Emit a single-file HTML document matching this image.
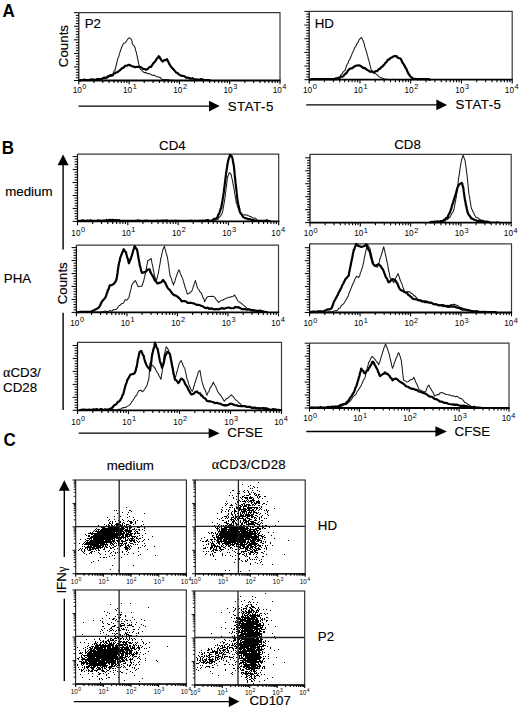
<!DOCTYPE html>
<html><head><meta charset="utf-8"><style>
html,body{margin:0;padding:0;background:#fff;}
svg{display:block;}
text{font-family:"Liberation Sans",sans-serif;fill:#000;}
.L{stroke:#000;stroke-width:0.15px;}
</style></head><body>
<svg width="520" height="708" viewBox="0 0 520 708">
<rect width="520" height="708" fill="#fff"/>
<text transform="translate(2.4,17.1) scale(1,1.1)" font-size="17" font-weight="bold">A</text>
<path d="M78.8,12.7H280V80.5" stroke="#3a3a3a" stroke-width="1.2" fill="none"/>
<path d="M95,80.3 96.67,80.2 98.33,79.57 100,79.21 101.67,79.65 103.33,78.55 105,78.72 106.56,78.19 108.12,77.63 109.69,76.45 111.25,76.41 112.19,74.69 113.12,73.55 114.06,71 115,70.55 115.42,67.94 115.83,67.04 116.25,65.01 116.67,63.74 117.08,61.29 117.5,59.79 118,58 118.5,57.33 119,55.54 119.5,53.65 120,52.13 120.5,50.5 121,49.14 121.5,48.07 122,46.43 122.5,45.25 123.75,43.24 125,42.91 126,41.83 127,40.29 127.88,39.04 128.75,37.92 130,38.01 131.25,39.45 131.88,41.12 132.5,44.09 133.33,45.05 134.17,45.78 135,47.43 135.42,49.5 135.83,50.9 136.25,52.05 136.67,54.69 137.08,55.3 137.5,57.91 137.83,59.74 138.17,61.13 138.5,63.04 138.83,64.2 139.17,65.5 139.5,67.47 140.5,69.04 141.5,70.32 142.5,71.11 144.17,72.62 145.83,72.36 147.5,73.74 149.17,73.61 150.83,74.41 152.5,75.59 154.17,74.96 155.83,76.42 157.5,76.74 158.75,77.31 160,77.38 161.25,78.72 163.12,79.61 165,79.51 166.67,79.82 168.33,79.64 170,80.2 171.67,80.2 173.33,80.2 175,80.4" fill="none" stroke="#1a1a1a" stroke-width="1.05" stroke-linejoin="round" stroke-linecap="round" />
<path d="M80,80.3 81.5,80 83,80 84.5,79.68 86,80 87.5,80 89,80 90.5,79.52 92,79.47 93.5,79.54 95,80 96.67,79.2 98.33,79.2 100,78.97 101.67,79.13 103.33,77.9 105,77.71 106.5,77.73 108,76.3 109.5,75.8 111,75.03 112.5,75.55 113.75,73.85 115,73.34 116.25,72.35 117.5,72.24 118.75,71.09 120,70.12 121.25,69.05 122.5,67.85 123.75,67.59 125,65.77 126.88,65.77 128.75,64.75 130.42,65.4 132.08,66.28 133.75,66.63 135.31,67.24 136.88,66.73 138.44,66.8 140,67.07 141.56,67.51 143.12,68.95 144.69,69.01 146.25,69.71 147.92,68.75 149.58,66.93 151.25,66.79 152.19,64.86 153.12,63.7 154.06,62.49 155,61.48 155.94,60.32 156.88,58.38 157.81,57.89 158.75,56.16 159.69,57.2 160.62,59.19 161.56,60.45 162.5,61.68 164,60.2 165.5,60.08 167,59.08 167.75,60.88 168.5,62.18 169.25,64.04 170,64.97 171,66.55 172,67.84 173,68.78 174,70.01 175,71.13 176.25,72.63 177.5,72.98 178.75,74.36 180,75.07 181.5,75.85 183,75.97 184.5,76.29 186,77.61 187.5,77.57 189.17,78.08 190.83,78.84 192.5,78.21 194.17,79.49 195.83,79.36 197.5,79.57 199.06,79.81 200.62,79.17 202.19,79.23 203.75,80 205.31,80 206.88,80 208.44,80 210,80.3" fill="none" stroke="#000" stroke-width="2.2" stroke-linejoin="round" stroke-linecap="round" />
<path d="M78.8,12.7V80.5" stroke="#111" stroke-width="1.2" fill="none"/>
<path d="M78.8,80.5h-4.8M78.8,77.79h-2.9M78.8,75.08h-2.9M78.8,72.36h-2.9M78.8,69.65h-2.9M78.8,66.94h-4.8M78.8,64.23h-2.9M78.8,61.52h-2.9M78.8,58.8h-2.9M78.8,56.09h-2.9M78.8,53.38h-4.8M78.8,50.67h-2.9M78.8,47.96h-2.9M78.8,45.24h-2.9M78.8,42.53h-2.9M78.8,39.82h-4.8M78.8,37.11h-2.9M78.8,34.4h-2.9M78.8,31.68h-2.9M78.8,28.97h-2.9M78.8,26.26h-4.8M78.8,23.55h-2.9M78.8,20.84h-2.9M78.8,18.12h-2.9M78.8,15.41h-2.9M78.8,12.7h-4.8" stroke="#000" stroke-width="1" fill="none"/>
<path d="M78.2,80.5H280.6" stroke="#000" stroke-width="1.8" fill="none"/>
<path d="M78.8,80.5v3.8M93.94,80.5v2.6M102.8,80.5v2.6M109.08,80.5v2.6M113.96,80.5v2.6M117.94,80.5v2.6M121.31,80.5v2.6M124.23,80.5v2.6M126.8,80.5v2.6M129.1,80.5v3.8M144.24,80.5v2.6M153.1,80.5v2.6M159.38,80.5v2.6M164.26,80.5v2.6M168.24,80.5v2.6M171.61,80.5v2.6M174.53,80.5v2.6M177.1,80.5v2.6M179.4,80.5v3.8M194.54,80.5v2.6M203.4,80.5v2.6M209.68,80.5v2.6M214.56,80.5v2.6M218.54,80.5v2.6M221.91,80.5v2.6M224.83,80.5v2.6M227.4,80.5v2.6M229.7,80.5v3.8M244.84,80.5v2.6M253.7,80.5v2.6M259.98,80.5v2.6M264.86,80.5v2.6M268.84,80.5v2.6M272.21,80.5v2.6M275.13,80.5v2.6M277.7,80.5v2.6M280,80.5v3.8" stroke="#000" stroke-width="1.1" fill="none"/>
<text x="72.64" y="92.6" font-size="8.2" fill="#111">10</text>
<text x="82.36" y="89.3" font-size="7.4" fill="#111">0</text>
<text x="122.94" y="92.6" font-size="8.2" fill="#111">10</text>
<text x="132.66" y="89.3" font-size="7.4" fill="#111">1</text>
<text x="173.24" y="92.6" font-size="8.2" fill="#111">10</text>
<text x="182.96" y="89.3" font-size="7.4" fill="#111">2</text>
<text x="223.54" y="92.6" font-size="8.2" fill="#111">10</text>
<text x="233.26" y="89.3" font-size="7.4" fill="#111">3</text>
<text x="272.64" y="92.6" font-size="8.2" fill="#111">10</text>
<text x="282.36" y="89.3" font-size="7.4" fill="#111">4</text>
<text x="84.7" y="28.4" font-size="13.3" text-anchor="start"  class="L">P2</text>
<text transform="translate(67.6,46.1) rotate(-90)" font-size="13.3" class="L" text-anchor="middle">Counts</text>
<path d="M78.5,106.1H210" stroke="#000" stroke-width="1.3"/>
<path d="M219.7,106.1L209,100.7V111.5Z" fill="#000"/>
<text x="227.7" y="110.5" font-size="13.3" text-anchor="start" letter-spacing="0.5" class="L">STAT-5</text>
<path d="M309.2,11.4H512.2V79.7" stroke="#3a3a3a" stroke-width="1.2" fill="none"/>
<path d="M320,79.6 321.56,79.31 323.12,79.17 324.69,79.4 326.25,79.02 327.81,79.4 329.38,79.4 330.94,79.4 332.5,79 334,79.09 335.5,77.69 337,77.49 338.5,77.04 340,76.67 341,74.46 342,74.05 343,72.08 344,71.14 345,70.58 345.62,68.96 346.25,66.58 346.88,65.03 347.5,63.6 348.12,63.05 348.75,60.7 349.38,60.13 350,58.7 350.62,57.26 351.25,55.94 351.88,54.12 352.5,52.89 353.25,51.05 354,49.7 354.75,47.48 355.5,46.56 356.25,45.59 357.19,43.3 358.12,42.13 359.06,39.93 360,38.73 361.75,37.55 362.42,39.49 363.08,40.62 363.75,42.46 364.17,43.59 364.58,45.51 365,47.4 365.42,48.2 365.83,49.98 366.25,51.32 366.67,52.34 367.08,54.4 367.5,55.28 367.92,57.22 368.33,59.13 368.75,59.77 369.17,61.87 369.58,63.14 370,65.17 370.42,66.3 370.83,68.33 371.25,70.34 372.5,70.91 373.75,72.33 375,73.42 376.67,74.42 378.33,76.12 380,77.4 381.67,77.87 383.33,78.6 385,79.26 386.67,79.2 388.33,79.4 390,79.4 391.67,79.4 393.33,79.32 395,79.6" fill="none" stroke="#1a1a1a" stroke-width="1.05" stroke-linejoin="round" stroke-linecap="round" />
<path d="M310,79.6 311.56,79.2 313.12,79 314.69,79.2 316.25,79.2 317.81,79.2 319.38,79.2 320.94,79.2 322.5,79.2 324.06,79.2 325.62,79.2 327.19,79.2 328.75,79.2 330.31,79.2 331.88,79.2 333.44,79.2 335,79.2 336.5,79.2 338,78.22 339.5,78 341,76.53 342.5,76.61 343.62,75.91 344.75,74.18 345.88,73.57 347,72.22 348.27,70.26 349.53,69.16 350.8,68.3 352.4,68.07 354,66.69 355.55,65.92 357.1,65.53 358.55,65.37 360,65.58 361.75,66.73 363.5,68.09 365,68.15 366.5,69.49 368.15,70.4 369.8,71.63 371.9,71.51 374,72.69 375.5,71.21 377,71.15 378.7,69.26 380.4,68.41 381.45,66.85 382.5,66.46 383.55,65.29 384.6,64.12 385.65,62.57 386.7,61.82 387.75,59.82 388.8,59.62 390.23,58.25 391.67,57.57 393.1,56.51 394.75,56.03 396.4,56.04 397.83,57.7 399.27,58.25 400.7,58.83 401.54,60.59 402.38,62.43 403.22,63.43 404.06,64.88 404.9,66.4 405.6,68.16 406.3,68.57 407,70.75 407.7,72.06 408.4,73.64 409.1,74.4 410.18,76.29 411.25,77.35 412.32,77.83 413.4,79.2 414.93,78.8 416.47,79.2 418,79.1 419.5,79.2 421,79.2 422.5,79.2 424,79.2 425.5,79.2 427,79.2 428.5,79.2 430,79.6" fill="none" stroke="#000" stroke-width="2.2" stroke-linejoin="round" stroke-linecap="round" />
<path d="M309.2,11.4V79.7" stroke="#111" stroke-width="1.2" fill="none"/>
<path d="M309.2,79.7h-4.8M309.2,76.97h-2.9M309.2,74.24h-2.9M309.2,71.5h-2.9M309.2,68.77h-2.9M309.2,66.04h-4.8M309.2,63.31h-2.9M309.2,60.58h-2.9M309.2,57.84h-2.9M309.2,55.11h-2.9M309.2,52.38h-4.8M309.2,49.65h-2.9M309.2,46.92h-2.9M309.2,44.18h-2.9M309.2,41.45h-2.9M309.2,38.72h-4.8M309.2,35.99h-2.9M309.2,33.26h-2.9M309.2,30.52h-2.9M309.2,27.79h-2.9M309.2,25.06h-4.8M309.2,22.33h-2.9M309.2,19.6h-2.9M309.2,16.86h-2.9M309.2,14.13h-2.9M309.2,11.4h-4.8" stroke="#000" stroke-width="1" fill="none"/>
<path d="M308.6,79.7H512.8" stroke="#000" stroke-width="1.8" fill="none"/>
<path d="M309.2,79.7v3.8M324.48,79.7v2.6M333.41,79.7v2.6M339.75,79.7v2.6M344.67,79.7v2.6M348.69,79.7v2.6M352.09,79.7v2.6M355.03,79.7v2.6M357.63,79.7v2.6M359.95,79.7v3.8M375.23,79.7v2.6M384.16,79.7v2.6M390.5,79.7v2.6M395.42,79.7v2.6M399.44,79.7v2.6M402.84,79.7v2.6M405.78,79.7v2.6M408.38,79.7v2.6M410.7,79.7v3.8M425.98,79.7v2.6M434.91,79.7v2.6M441.25,79.7v2.6M446.17,79.7v2.6M450.19,79.7v2.6M453.59,79.7v2.6M456.53,79.7v2.6M459.13,79.7v2.6M461.45,79.7v3.8M476.73,79.7v2.6M485.66,79.7v2.6M492,79.7v2.6M496.92,79.7v2.6M500.94,79.7v2.6M504.34,79.7v2.6M507.28,79.7v2.6M509.88,79.7v2.6M512.2,79.7v3.8" stroke="#000" stroke-width="1.1" fill="none"/>
<text x="303.04" y="92.6" font-size="8.2" fill="#111">10</text>
<text x="312.76" y="89.3" font-size="7.4" fill="#111">0</text>
<text x="353.79" y="92.6" font-size="8.2" fill="#111">10</text>
<text x="363.51" y="89.3" font-size="7.4" fill="#111">1</text>
<text x="404.54" y="92.6" font-size="8.2" fill="#111">10</text>
<text x="414.26" y="89.3" font-size="7.4" fill="#111">2</text>
<text x="455.29" y="92.6" font-size="8.2" fill="#111">10</text>
<text x="465.01" y="89.3" font-size="7.4" fill="#111">3</text>
<text x="504.84" y="92.6" font-size="8.2" fill="#111">10</text>
<text x="514.56" y="89.3" font-size="7.4" fill="#111">4</text>
<text x="314.7" y="27.8" font-size="13.3" text-anchor="start"  class="L">HD</text>
<path d="M306.2,104.9H437.4" stroke="#000" stroke-width="1.3"/>
<path d="M447.1,104.9L436.4,99.5V110.3Z" fill="#000"/>
<text x="455.4" y="109.2" font-size="13.3" text-anchor="start" letter-spacing="0.5" class="L">STAT-5</text>
<text transform="translate(1.8,153.9) scale(1,1.1)" font-size="17" font-weight="bold">B</text>
<text x="172.4" y="150" font-size="13.3" text-anchor="middle"  class="L">CD4</text>
<text x="407.5" y="148.6" font-size="13.3" text-anchor="middle"  class="L">CD8</text>
<text x="5.2" y="196" font-size="13.3" text-anchor="start"  class="L">medium</text>
<text x="3.8" y="283.3" font-size="13.3" text-anchor="start"  class="L">PHA</text>
<text x="3.1" y="376.7" font-size="13.3" class="L"><tspan font-family="Liberation Serif" font-size="14">&#945;</tspan>CD3/</text>
<text x="3.1" y="392.3" font-size="13.3" text-anchor="start"  class="L">CD28</text>
<path d="M63.1,164.2V249.5M63.1,312.7V410" stroke="#000" stroke-width="1.4"/>
<path d="M63.1,154.6L57.6,165.2H68.6Z" fill="#000"/>
<text transform="translate(67.3,283.3) rotate(-90)" font-size="13.3" class="L" text-anchor="middle">Counts</text>
<path d="M77.5,154.1H278.7V221.4" stroke="#3a3a3a" stroke-width="1.2" fill="none"/>
<path d="M210,221 211.5,220.66 213,220.49 214.5,220.35 216,220.04 217.5,219.55 218.33,218.75 219.17,217.24 220,216.6 220.83,215.55 221.67,214.04 222.5,212.3 222.75,210.97 223,209.79 223.25,207.67 223.5,206.86 223.75,204.45 224,204.06 224.25,202.07 224.5,200.83 224.75,199.12 225,197.92 225.19,195.87 225.38,193.93 225.58,192.53 225.77,191.64 225.96,190.39 226.15,187.94 226.35,186.71 226.54,185.53 226.73,183.42 226.92,181.8 227.12,180.89 227.31,178.58 227.5,177.3 228.17,175.78 228.83,173.83 229.5,172.54 230.38,173.48 231.25,174.89 231.56,176.19 231.88,178.5 232.19,179.15 232.5,180.67 232.81,182.65 233.12,184.74 233.44,185.64 233.75,187.46 234,188.51 234.25,190.24 234.5,192.53 234.75,193.93 235,194.52 235.25,197.05 235.5,197.96 235.75,199.06 236,200.84 236.25,203.05 236.79,203.55 237.32,205.67 237.86,207.31 238.39,208.71 238.93,209.95 239.46,211.58 240,212.04 241.25,213.57 242.5,214.72 243.75,215.03 245.62,214.67 247.5,215.25 249.17,216.1 250.83,216.73 252.5,217.77 254.17,217.94 255.83,218.57 257.5,220.19 259,220.79 260.5,220.38 262,220.82 263.5,221.05 265,221" fill="none" stroke="#1a1a1a" stroke-width="1.05" stroke-linejoin="round" stroke-linecap="round" />
<path d="M78,221 79.57,220.9 81.14,220.9 82.71,220.35 84.29,220.9 85.86,220.78 87.43,220.69 89,220.9 90.57,220.33 92.14,220.9 93.71,220.9 95.29,220.9 96.86,220.9 98.43,220.29 100,220.71 101.67,220.9 103.33,220.55 105,220.67 106.67,219.93 108.33,220.55 110,219.73 111.54,220.37 113.08,219.84 114.62,220.23 116.15,220.05 117.69,220.3 119.23,220.18 120.77,220.9 122.31,220.76 123.85,220.9 125.38,220.9 126.92,220.9 128.46,220.9 130,220.9 131.52,220.9 133.04,220.9 134.57,220.86 136.09,220.88 137.61,220.43 139.13,220.65 140.65,220.9 142.17,220.87 143.7,220.9 145.22,220.51 146.74,220.58 148.26,220.9 149.78,220.9 151.3,220.83 152.83,220.9 154.35,220.9 155.87,220.9 157.39,220.58 158.91,220.9 160.43,220.9 161.96,220.57 163.48,220.48 165,220.48 166.52,220.4 168.04,220.9 169.57,220.9 171.09,220.72 172.61,220.75 174.13,220.9 175.65,220.68 177.17,220.9 178.7,220.9 180.22,220.89 181.74,220.9 183.26,220.88 184.78,220.83 186.3,220.9 187.83,220.9 189.35,220.9 190.87,220.54 192.39,220.77 193.91,220.9 195.43,220.9 196.96,220.9 198.48,220.9 200,220.51 201.56,220.9 203.12,220.54 204.69,220.73 206.25,220.24 207.81,220.12 209.38,220.54 210.94,220.9 212.5,220.25 214.17,218.93 215.83,218.73 217.5,217.24 218.04,215.57 218.57,214.29 219.11,213.67 219.64,212.27 220.18,210.35 220.71,208.9 221.25,207.73 221.5,205.81 221.75,204.36 222,203.34 222.25,201.7 222.5,200.47 222.75,198.58 223,197.39 223.25,195.9 223.5,193.68 223.75,192.67 223.94,191.03 224.13,189.02 224.33,187.55 224.52,186.22 224.71,185.34 224.9,182.71 225.1,182.29 225.29,180.73 225.48,178.54 225.67,177.27 225.87,175.34 226.06,173.49 226.25,171.92 226.5,171.21 226.75,169.05 227,167.82 227.25,165.99 227.5,164.1 227.75,163 228,161.51 228.25,160.55 228.83,158.35 229.42,157.23 230,154.88 232,156.66 232.35,158.02 232.7,159.18 233.05,162 233.4,163.47 233.75,165.09 233.91,166.51 234.07,167.59 234.23,170.22 234.39,170.83 234.55,172.48 234.7,174.88 234.86,175.89 235.02,177.53 235.18,179.05 235.34,180.87 235.5,182.85 235.68,183.89 235.86,185.24 236.05,187.33 236.23,188.69 236.41,190.93 236.59,191.52 236.77,193.54 236.95,195.13 237.14,197.19 237.32,198.03 237.5,200.35 237.81,201.62 238.12,203.52 238.44,205.06 238.75,206.25 239.06,208.08 239.38,208.94 239.69,211.24 240,212.15 240.94,213.82 241.88,214.6 242.81,216.79 243.75,217.38 245.31,218.19 246.88,218.51 248.44,219.23 250,219.13 251.5,220.08 253,219.87 254.5,220.42 256,220.9 257.5,220.9 259.06,220.9 260.62,220.8 262.19,220.81 263.75,220.9 265.31,220.87 266.88,220.38 268.44,220.74 270,221" fill="none" stroke="#000" stroke-width="2.2" stroke-linejoin="round" stroke-linecap="round" />
<path d="M77.5,154.1V221.4" stroke="#111" stroke-width="1.2" fill="none"/>
<path d="M77.5,221.4h-4.8M77.5,218.81h-2.9M77.5,216.22h-2.9M77.5,213.62h-2.9M77.5,211.03h-2.9M77.5,208.44h-4.8M77.5,205.85h-2.9M77.5,203.26h-2.9M77.5,200.66h-2.9M77.5,198.07h-2.9M77.5,195.48h-4.8M77.5,192.89h-2.9M77.5,190.3h-2.9M77.5,187.7h-2.9M77.5,185.11h-2.9M77.5,182.52h-4.8M77.5,179.93h-2.9M77.5,177.34h-2.9M77.5,174.74h-2.9M77.5,172.15h-2.9M77.5,169.56h-4.8M77.5,166.97h-2.9M77.5,164.38h-2.9M77.5,161.78h-2.9M77.5,159.19h-2.9M77.5,156.6h-4.8" stroke="#000" stroke-width="1" fill="none"/>
<path d="M76.9,221.4H279.3" stroke="#000" stroke-width="1.8" fill="none"/>
<path d="M77.5,221.4v3.8M92.64,221.4v2.6M101.5,221.4v2.6M107.78,221.4v2.6M112.66,221.4v2.6M116.64,221.4v2.6M120.01,221.4v2.6M122.93,221.4v2.6M125.5,221.4v2.6M127.8,221.4v3.8M142.94,221.4v2.6M151.8,221.4v2.6M158.08,221.4v2.6M162.96,221.4v2.6M166.94,221.4v2.6M170.31,221.4v2.6M173.23,221.4v2.6M175.8,221.4v2.6M178.1,221.4v3.8M193.24,221.4v2.6M202.1,221.4v2.6M208.38,221.4v2.6M213.26,221.4v2.6M217.24,221.4v2.6M220.61,221.4v2.6M223.53,221.4v2.6M226.1,221.4v2.6M228.4,221.4v3.8M243.54,221.4v2.6M252.4,221.4v2.6M258.68,221.4v2.6M263.56,221.4v2.6M267.54,221.4v2.6M270.91,221.4v2.6M273.83,221.4v2.6M276.4,221.4v2.6M278.7,221.4v3.8" stroke="#000" stroke-width="1.1" fill="none"/>
<text x="71.34" y="235.5" font-size="8.2" fill="#111">10</text>
<text x="81.06" y="232.2" font-size="7.4" fill="#111">0</text>
<text x="121.64" y="235.5" font-size="8.2" fill="#111">10</text>
<text x="131.36" y="232.2" font-size="7.4" fill="#111">1</text>
<text x="171.94" y="235.5" font-size="8.2" fill="#111">10</text>
<text x="181.66" y="232.2" font-size="7.4" fill="#111">2</text>
<text x="222.24" y="235.5" font-size="8.2" fill="#111">10</text>
<text x="231.96" y="232.2" font-size="7.4" fill="#111">3</text>
<text x="271.34" y="235.5" font-size="8.2" fill="#111">10</text>
<text x="281.06" y="232.2" font-size="7.4" fill="#111">4</text>
<path d="M310,154.3H511.2V222.6" stroke="#3a3a3a" stroke-width="1.2" fill="none"/>
<path d="M430,222.3 431.5,222.17 433,221.51 434.5,221.5 436,221.96 437.5,221.38 439,222.2 440.5,221.11 442,221.23 443.5,220.87 445,221.11 446.25,219.72 447.5,219.51 448.75,218 450,217.03 450.75,215.82 451.5,214.04 452.25,212.7 453,212.03 453.75,209.78 454.06,208.68 454.38,207.06 454.69,205.52 455,203.7 455.31,202.12 455.62,200.8 455.94,198.64 456.25,196.95 456.44,195.49 456.63,193.85 456.83,192.84 457.02,190.86 457.21,189.75 457.4,188.36 457.6,186.42 457.79,185.4 457.98,183.67 458.17,181.9 458.37,180.61 458.56,178.48 458.75,177.56 459,175.48 459.25,174.79 459.5,172.69 459.75,171.03 460,169.03 460.25,167.25 460.5,165.71 460.75,164.32 461,162.48 461.25,161.71 461.69,159.57 462.12,158.28 462.56,156.8 463,155.34 463.67,156.61 464.33,158.72 465,160.4 465.2,161.58 465.4,162.68 465.6,164.82 465.8,165.44 466,167.73 466.2,168.92 466.4,170.13 466.6,172.57 466.8,172.99 467,174.78 467.16,176.78 467.32,177.64 467.48,180.09 467.64,180.77 467.8,182.57 467.95,185 468.11,185.59 468.27,188.17 468.43,188.91 468.59,190.77 468.75,192.26 469,194.18 469.25,195.66 469.5,196.6 469.75,198.21 470,199.99 470.25,201.99 470.5,202.97 470.75,204.68 471,206.37 471.25,207.71 471.88,209.38 472.5,210.27 473.12,212.15 473.75,212.85 474.38,214.44 475,215.73 476.25,217.53 477.5,217.56 478.75,218.77 480,219.45 481.25,220.24 483,220.36 484.75,221.03 486.5,221.39 488.25,221.73 490,222.21 491.67,222.3 493.33,222.14 495,222.21 496.67,221.81 498.33,222.1 500,222.3" fill="none" stroke="#1a1a1a" stroke-width="1.05" stroke-linejoin="round" stroke-linecap="round" />
<path d="M430,222.3 431.56,221.94 433.12,222.1 434.69,221.46 436.25,221.74 437.81,221.32 439.38,221.98 440.94,220.99 442.5,221.34 443.75,220.09 445,219.49 446.25,217.87 447.5,217.83 448.12,215.79 448.75,214.46 449.38,213.24 450,212.18 450.62,210.28 451.25,208.78 451.72,206.69 452.19,205.22 452.66,203.68 453.12,202.93 453.59,200.36 454.06,199.75 454.53,197.61 455,196.57 455.5,194.54 456,193.41 456.5,191.12 457,189.18 457.5,187.75 458,186.36 459,184.58 460,183.92 461.75,182.91 462.25,183.57 462.75,186.41 463.25,187.3 463.47,189.16 463.69,191.14 463.91,192.34 464.12,194.28 464.34,195.6 464.56,197.34 464.78,198.76 465,200.01 465.31,201.24 465.62,203.29 465.94,205.09 466.25,205.72 466.56,208.18 466.88,209.27 467.19,210.59 467.5,212.02 468.44,214.36 469.38,215.54 470.31,216.63 471.25,218.43 472.81,218.83 474.38,219.74 475.94,220.22 477.5,221.15 479.06,220.88 480.62,220.92 482.19,221.85 483.75,222.1 485.31,222.1 486.88,221.58 488.44,222.1 490,222.3" fill="none" stroke="#000" stroke-width="2.2" stroke-linejoin="round" stroke-linecap="round" />
<path d="M310,154.3V222.6" stroke="#111" stroke-width="1.2" fill="none"/>
<path d="M310,222.6h-4.8M310,220.01h-2.9M310,217.42h-2.9M310,214.82h-2.9M310,212.23h-2.9M310,209.64h-4.8M310,207.05h-2.9M310,204.46h-2.9M310,201.86h-2.9M310,199.27h-2.9M310,196.68h-4.8M310,194.09h-2.9M310,191.5h-2.9M310,188.9h-2.9M310,186.31h-2.9M310,183.72h-4.8M310,181.13h-2.9M310,178.54h-2.9M310,175.94h-2.9M310,173.35h-2.9M310,170.76h-4.8M310,168.17h-2.9M310,165.58h-2.9M310,162.98h-2.9M310,160.39h-2.9M310,157.8h-4.8" stroke="#000" stroke-width="1" fill="none"/>
<path d="M309.4,222.6H511.8" stroke="#000" stroke-width="1.8" fill="none"/>
<path d="M310,222.6v3.8M325.14,222.6v2.6M334,222.6v2.6M340.28,222.6v2.6M345.16,222.6v2.6M349.14,222.6v2.6M352.51,222.6v2.6M355.43,222.6v2.6M358,222.6v2.6M360.3,222.6v3.8M375.44,222.6v2.6M384.3,222.6v2.6M390.58,222.6v2.6M395.46,222.6v2.6M399.44,222.6v2.6M402.81,222.6v2.6M405.73,222.6v2.6M408.3,222.6v2.6M410.6,222.6v3.8M425.74,222.6v2.6M434.6,222.6v2.6M440.88,222.6v2.6M445.76,222.6v2.6M449.74,222.6v2.6M453.11,222.6v2.6M456.03,222.6v2.6M458.6,222.6v2.6M460.9,222.6v3.8M476.04,222.6v2.6M484.9,222.6v2.6M491.18,222.6v2.6M496.06,222.6v2.6M500.04,222.6v2.6M503.41,222.6v2.6M506.33,222.6v2.6M508.9,222.6v2.6M511.2,222.6v3.8" stroke="#000" stroke-width="1.1" fill="none"/>
<text x="303.84" y="236.4" font-size="8.2" fill="#111">10</text>
<text x="313.56" y="233.1" font-size="7.4" fill="#111">0</text>
<text x="354.14" y="236.4" font-size="8.2" fill="#111">10</text>
<text x="363.86" y="233.1" font-size="7.4" fill="#111">1</text>
<text x="404.44" y="236.4" font-size="8.2" fill="#111">10</text>
<text x="414.16" y="233.1" font-size="7.4" fill="#111">2</text>
<text x="454.74" y="236.4" font-size="8.2" fill="#111">10</text>
<text x="464.46" y="233.1" font-size="7.4" fill="#111">3</text>
<text x="503.84" y="236.4" font-size="8.2" fill="#111">10</text>
<text x="513.56" y="233.1" font-size="7.4" fill="#111">4</text>
<path d="M76.4,245.2H278.5V312.4" stroke="#3a3a3a" stroke-width="1.2" fill="none"/>
<path d="M90,312.3 91.67,312.1 93.33,312.1 95,312.01 96.67,312.1 98.33,312.1 100,312.1 101.67,312.1 103.34,311.45 105.01,310.91 106.69,311.42 108.36,311.45 110.03,310.46 111.7,311.27 113.3,309.63 114.9,309.69 116.5,309.14 117.45,308.17 118.4,306.14 120,305.3 121.6,303.73 123.2,303.34 124.15,301.71 125.1,299.72 127,299.92 128.5,298.25 128.87,297.79 129.23,296.22 129.6,294.49 129.97,293.02 130.33,291.11 130.7,289.85 131.07,288.69 131.43,286.64 131.8,285.07 132.93,283.34 134.07,281.94 135.2,280.5 135.92,281.75 136.65,283.32 137.38,285.09 138.1,286.65 140,286.23 141.9,286.11 142.38,285.07 142.85,283.17 143.33,282.06 143.8,280.4 144.2,278.7 144.6,277.43 145,274.76 145.4,273.62 145.8,271.46 146.07,269.98 146.34,268.85 146.61,267.79 146.89,265.13 147.16,263.96 147.43,263.19 147.7,260.82 149.4,259.95 151.1,258.48 151.45,259.91 151.8,262.14 152.15,263.9 152.5,265.17 152.77,266.77 153.04,267.78 153.31,269.97 153.59,270.86 153.86,272.24 154.13,274.21 154.4,275.22 155.03,277.6 155.67,278.68 156.3,280.85 156.8,278.89 157.3,277.61 157.8,274.98 158.3,273.4 158.57,272.22 158.83,270.17 159.1,268.94 159.37,266.96 159.63,265.85 159.9,264.39 160.17,262.92 160.43,261.07 160.7,258.83 161.04,257.4 161.39,256.7 161.73,254.88 162.07,252.74 162.41,251.9 162.76,249.95 163.1,249.01 164.5,246.19 164.93,248.65 165.36,249.54 165.79,251.91 166.21,253.41 166.64,254.13 167.07,256.34 167.5,257.38 167.73,259.64 167.95,260.59 168.18,262.47 168.41,264.38 168.64,264.91 168.86,267.06 169.09,269.17 169.32,270.78 169.55,272.32 169.77,273.54 170,275.29 170.5,276.86 171,277.82 171.5,278.72 172,281.05 172.5,282.56 173,283.54 173.5,285.16 174.03,282.9 174.56,282.42 175.09,280.32 175.62,278.4 176.15,277.01 176.68,275.41 177.21,274 177.74,272.53 178.27,271.29 178.8,269.89 179.45,270.63 180.1,272.82 180.75,274.66 181.4,275.77 182.05,277.39 182.7,278.7 183.16,280.71 183.62,281.76 184.08,283.88 184.54,284.63 185,287.23 185.46,288.38 185.92,289.32 186.38,291.23 186.84,292.42 187.3,294.13 188.83,293.46 190.37,292.33 191.9,290.92 192.4,289.57 192.9,287.93 193.4,285.79 193.9,285.41 194.4,282.92 194.9,282.2 195.4,280.4 195.86,282.45 196.32,283.32 196.78,285.56 197.24,287.35 197.7,288.22 198.87,289.74 200.03,291.91 201.2,292.95 201.88,294.52 202.56,296.37 203.24,298.21 203.92,298.97 204.6,301.78 205.73,299.58 206.87,297.47 208,296.6 209.93,296.42 211.87,296.34 213.8,296.58 214.98,297.45 216.15,299.58 217.32,300.63 218.5,302.55 219.93,301.16 221.35,300.33 222.77,300.27 224.2,299.19 225.73,298.58 227.27,297.89 228.8,297.27 230.25,297.24 231.7,296.47 233.15,296.35 234.6,294.8 235.47,296.95 236.35,297.74 237.22,299.76 238.1,301.08 239.53,302.21 240.95,302.97 242.38,304.4 243.8,305.34 245.37,306.64 246.93,308.38 248.5,308.92 250.03,310 251.57,309.82 253.1,310.94 254.63,310.28 256.17,311.18 257.7,311.05 259.52,311.94 261.35,311.5 263.18,311.94 265,312.3" fill="none" stroke="#1a1a1a" stroke-width="1.05" stroke-linejoin="round" stroke-linecap="round" />
<path d="M78,312.3 79.67,311.9 81.33,311.9 83,311.9 84.67,311.84 86.33,311.9 88,311.9 90.5,311.83 92.4,311.09 94.3,309.95 95.93,309.28 97.57,308.38 99.2,307.05 100.13,305.46 101.07,303.25 102,301.5 102.97,300.23 103.95,299.27 104.93,298.14 105.9,296.52 106.38,294.71 106.85,293.18 107.33,292.52 107.8,290.04 108.43,289.55 109.07,287.74 109.7,285.4 111.65,285.19 113.6,283.95 115.5,281.84 116,280 116.5,279.57 116.8,277.35 117.1,276.13 117.4,273.71 117.6,272.72 117.8,270.65 118,269.15 118.2,268.31 118.4,266.6 118.75,264.82 119.1,262.58 119.45,261.87 119.8,260.05 120.3,257.61 120.8,256.44 121.3,255.12 122.1,252.97 122.9,251.3 123.7,249.19 124.85,251.37 126,252.23 126.43,254.56 126.86,255.57 127.29,257.79 127.71,258.33 128.14,260.1 128.57,262.33 129,263.25 129.56,261.49 130.12,260.18 130.68,259.02 131.24,257.28 131.8,255.65 132.28,253.84 132.77,252.27 133.25,250.46 133.73,249.04 134.22,247.3 134.7,246.11 135.9,248.31 137.1,249.81 137.37,251.69 137.63,252.49 137.9,254.43 138.17,255.83 138.43,258.05 138.7,258.91 138.97,260.82 139.23,261.99 139.5,263.41 139.9,266.02 140.3,266.85 140.7,268.33 141.1,270.6 141.5,271.19 141.9,272.82 144.8,272.17 146.25,271.39 147.7,269.51 149.6,269.43 150.55,272.35 151.5,274.08 152.22,275.05 152.95,276.72 153.68,277.56 154.4,279.64 155.37,281 156.33,281.91 157.3,283.51 159.25,282.84 161.2,282.3 162.15,281.3 163.1,280.01 165,282.45 165.83,283.85 166.67,286.08 167.5,287.58 168.5,288.86 169.5,289.57 170.5,291.32 171.5,292.36 172.5,293.88 174.17,295.15 175.83,295.67 177.5,296.64 178.5,297.67 179.5,298.46 180.5,299.45 181.5,301.3 183.05,301 184.6,301.15 186.15,301.51 187.7,302.86 189.25,302.8 190.8,302.74 192.33,303.18 193.87,303.41 195.4,304.33 196.93,304.87 198.47,304.76 200,305.3 201.53,305.96 203.07,306.61 204.6,307.6 206.13,308.17 207.67,307.51 209.2,308.9 210.95,308.35 212.7,308.89 214.45,309.38 216.2,309.11 217.73,309.28 219.27,309.14 220.8,308.41 222.33,308.16 223.87,308.86 225.4,308.31 227.12,307.77 228.85,307.59 230.58,308.04 232.3,308.26 233.83,308.13 235.37,306.88 236.9,307.43 238.62,307.19 240.35,308.18 242.08,309.23 243.8,309.16 245.35,309.22 246.9,309.71 248.45,309.3 250,309.53 251.55,310.5 253.1,310.18 254.63,310.63 256.17,310.5 257.7,311.16 259.23,310.59 260.77,310.77 262.3,311.18 263.83,311.67 265.37,311.9 266.9,312" fill="none" stroke="#000" stroke-width="2.2" stroke-linejoin="round" stroke-linecap="round" />
<path d="M76.4,245.2V312.4" stroke="#111" stroke-width="1.2" fill="none"/>
<path d="M76.4,312.4h-4.8M76.4,309.81h-2.9M76.4,307.22h-2.9M76.4,304.62h-2.9M76.4,302.03h-2.9M76.4,299.44h-4.8M76.4,296.85h-2.9M76.4,294.26h-2.9M76.4,291.66h-2.9M76.4,289.07h-2.9M76.4,286.48h-4.8M76.4,283.89h-2.9M76.4,281.3h-2.9M76.4,278.7h-2.9M76.4,276.11h-2.9M76.4,273.52h-4.8M76.4,270.93h-2.9M76.4,268.34h-2.9M76.4,265.74h-2.9M76.4,263.15h-2.9M76.4,260.56h-4.8M76.4,257.97h-2.9M76.4,255.38h-2.9M76.4,252.78h-2.9M76.4,250.19h-2.9M76.4,247.6h-4.8" stroke="#000" stroke-width="1" fill="none"/>
<path d="M75.8,312.4H279.1" stroke="#000" stroke-width="1.8" fill="none"/>
<path d="M76.4,312.4v3.8M91.61,312.4v2.6M100.51,312.4v2.6M106.82,312.4v2.6M111.72,312.4v2.6M115.72,312.4v2.6M119.1,312.4v2.6M122.03,312.4v2.6M124.61,312.4v2.6M126.93,312.4v3.8M142.13,312.4v2.6M151.03,312.4v2.6M157.34,312.4v2.6M162.24,312.4v2.6M166.24,312.4v2.6M169.62,312.4v2.6M172.55,312.4v2.6M175.14,312.4v2.6M177.45,312.4v3.8M192.66,312.4v2.6M201.56,312.4v2.6M207.87,312.4v2.6M212.77,312.4v2.6M216.77,312.4v2.6M220.15,312.4v2.6M223.08,312.4v2.6M225.66,312.4v2.6M227.97,312.4v3.8M243.18,312.4v2.6M252.08,312.4v2.6M258.39,312.4v2.6M263.29,312.4v2.6M267.29,312.4v2.6M270.67,312.4v2.6M273.6,312.4v2.6M276.19,312.4v2.6M278.5,312.4v3.8" stroke="#000" stroke-width="1.1" fill="none"/>
<text x="70.24" y="325.7" font-size="8.2" fill="#111">10</text>
<text x="79.96" y="322.4" font-size="7.4" fill="#111">0</text>
<text x="120.77" y="325.7" font-size="8.2" fill="#111">10</text>
<text x="130.48" y="322.4" font-size="7.4" fill="#111">1</text>
<text x="171.29" y="325.7" font-size="8.2" fill="#111">10</text>
<text x="181.01" y="322.4" font-size="7.4" fill="#111">2</text>
<text x="221.82" y="325.7" font-size="8.2" fill="#111">10</text>
<text x="231.53" y="322.4" font-size="7.4" fill="#111">3</text>
<text x="271.14" y="325.7" font-size="8.2" fill="#111">10</text>
<text x="280.86" y="322.4" font-size="7.4" fill="#111">4</text>
<path d="M309.6,243.8H511.5V312.5" stroke="#3a3a3a" stroke-width="1.2" fill="none"/>
<path d="M325,312.8 326.67,312.2 328.33,311.89 330,311.75 331.5,312 333,311.62 334.5,310.82 336,310.83 337.5,310.18 338.75,308.36 340,307.93 341.25,305.79 342.5,304.58 343.33,304.06 344.17,302.96 345,301.53 345.83,300.32 346.67,298.51 347.5,297.37 348.12,296.32 348.75,294.24 349.38,292.36 350,291 350.62,289.22 351.25,287.91 351.88,286.26 352.5,284.82 353.12,283.09 353.75,282.63 354.38,280.14 355,278.96 355.62,278.19 356.25,276.31 358.75,277.48 359.29,276.34 359.82,275.2 360.36,272.97 360.89,271.85 361.43,270.32 361.96,268.46 362.5,267.43 362.8,265.52 363.1,264.49 363.4,263.36 363.7,261.83 364,259.52 364.3,258.37 364.6,256.75 364.9,255.6 365.2,254.42 365.5,252.65 365.9,250.61 366.3,248.94 366.7,247.59 367.1,246.37 367.5,244.59 368.33,245.77 369.17,247.23 370,248.35 370.34,250.49 370.68,252.28 371.02,253.34 371.36,254.31 371.7,255.73 372.05,258.21 372.39,259.52 372.73,260.56 373.07,262.26 373.41,264.07 373.75,265.24 375,265.97 376.25,266.75 377.5,267.32 378,265.76 378.5,264.08 379,262.67 379.5,261.04 380,258.61 380.5,257.88 380.96,256.19 381.43,254.56 381.89,253.52 382.36,251.45 382.82,249.76 383.29,248.15 383.75,246.77 384.11,248.6 384.46,250.04 384.82,251.35 385.18,253.1 385.54,254.87 385.89,256.48 386.25,258.08 386.54,258.75 386.83,261.02 387.12,261.84 387.4,263.63 387.69,264.68 387.98,266.95 388.27,268.44 388.56,270.09 388.85,271.8 389.13,272.45 389.42,273.92 389.71,276.06 390,277.54 390.94,278.46 391.88,279.82 392.81,281.12 393.75,282.77 394.46,281.02 395.17,279.35 395.88,277.75 396.58,276.13 397.29,275.32 398,273.43 398.54,275.11 399.08,276.28 399.62,278.27 400.17,280.09 400.71,281.14 401.25,282.46 401.79,283.56 402.32,285.18 402.86,287 403.39,288.37 403.93,289.71 404.46,291.41 405,292.43 406.5,292.16 408,291.52 409.57,291.65 411.13,293.27 412.7,293.91 413.86,295.77 415.02,295.86 416.18,297.37 417.34,298.88 418.5,300.49 420.03,299.91 421.57,300.07 423.1,301.16 424.63,300.84 426.17,300.66 427.7,301.46 429.23,302.17 430.77,302.58 432.3,302.99 433.83,303.67 435.37,303.79 436.9,304.24 438.45,304.81 440,304.88 441.55,304.4 443.1,304.47 444.65,305.51 446.2,305.53 447.73,305.3 449.27,305.57 450.8,304.59 452.33,304.77 453.87,304.24 455.4,304.62 456.78,305.37 458.16,305.74 459.54,307.22 460.92,307.4 462.3,307.97 463.83,308.67 465.37,309.66 466.9,310.08 468.43,310.04 469.97,310.85 471.5,310.67 473.16,310.85 474.81,310.98 476.47,311.79 478.13,311.78 479.79,312.14 481.44,312.13 483.1,311.95 484.63,312.2 486.17,312.2 487.7,312.06 489.23,312.2 490.77,312.2 492.3,312.2 493.83,312.2 495.37,312.2 496.9,313" fill="none" stroke="#1a1a1a" stroke-width="1.05" stroke-linejoin="round" stroke-linecap="round" />
<path d="M310,312.5 311.56,311.8 313.12,311.68 314.69,311.59 316.25,312 317.81,311.35 319.38,311.29 320.94,311.34 322.5,311.26 323.96,311.14 325.42,310.63 326.88,309.59 328.33,309.36 329.79,309.35 331.25,308.56 331.88,307.62 332.5,305.81 333.12,304.14 333.75,302.46 334.38,300.89 335,300.12 335.71,298.47 336.43,297.17 337.14,295.7 337.86,294.84 338.57,292.7 339.29,291.48 340,290.37 340.71,288.6 341.43,287.68 342.14,285.47 342.86,284.25 343.57,282.94 344.29,281.42 345,279.97 345.94,278.33 346.88,277.87 347.81,276.28 348.75,275.53 349.06,273.1 349.38,271.46 349.69,270.69 350,268.19 350.31,266.97 350.62,265.83 350.94,263.85 351.25,262.22 351.56,260.58 351.88,259.61 352.19,257.92 352.5,256.82 352.81,254.13 353.12,252.78 353.44,251.84 353.75,249.75 354.38,249.21 355,246.76 355.62,245.71 356.25,243.93 357.92,245.6 359.58,246.17 361.25,247.02 362.92,246.46 364.58,246.05 366.25,244.35 367,246.62 367.75,247.75 368.5,249.79 369.25,250.43 370,252.52 370.42,254.52 370.83,255.99 371.25,258 371.67,258.88 372.08,260.52 372.5,262.63 373.33,264.19 374.17,264.96 375,265.94 376.25,265.34 377.5,264.79 378.75,264.07 379.69,265.28 380.62,265.98 381.56,267.77 382.5,268.89 383.12,270.01 383.75,271.38 384.38,273.22 385,274.65 385.62,276.59 386.25,277.67 387.08,278.71 387.92,281.21 388.75,282.31 390,281.54 391.25,280.01 392.5,279.09 393.75,279.65 395,280.06 396.25,281.57 396.88,283.2 397.5,283.63 398.12,285.5 398.75,286.96 399.38,288.44 400,289.26 401.38,290.45 402.76,290.7 404.14,292 405.52,292.56 406.9,292.43 408.06,294.61 409.22,295.38 410.38,296.56 411.54,297.21 412.7,298.75 414.15,299.09 415.6,299.26 417.05,299.48 418.5,300.39 420.03,300.3 421.57,301.39 423.1,301.37 424.63,302.1 426.17,302.08 427.7,302.22 429.23,302.84 430.77,302.5 432.3,303.33 433.83,304.26 435.37,304.3 436.9,304.51 438.45,305.38 440,305.39 441.55,305.29 443.1,306.1 444.65,305.72 446.2,306.37 447.73,306.75 449.27,306.96 450.8,306.03 452.33,306.62 453.87,306.39 455.4,306.95 457.12,307.6 458.85,307.84 460.57,308.73 462.3,309.58 463.83,309.62 465.37,309.47 466.9,309.87 468.43,310.45 469.97,310.35 471.5,311.17 473.16,311.22 474.81,311.67 476.47,311.02 478.13,311.53 479.79,311.74 481.44,312 483.1,311.77 484.63,311.83 486.17,312 487.7,312 489.23,312 490.77,312 492.3,312 493.83,312 495.37,312 496.9,313" fill="none" stroke="#000" stroke-width="2.2" stroke-linejoin="round" stroke-linecap="round" />
<path d="M309.6,243.8V312.5" stroke="#111" stroke-width="1.2" fill="none"/>
<path d="M309.6,312.5h-4.8M309.6,309.91h-2.9M309.6,307.32h-2.9M309.6,304.72h-2.9M309.6,302.13h-2.9M309.6,299.54h-4.8M309.6,296.95h-2.9M309.6,294.36h-2.9M309.6,291.76h-2.9M309.6,289.17h-2.9M309.6,286.58h-4.8M309.6,283.99h-2.9M309.6,281.4h-2.9M309.6,278.8h-2.9M309.6,276.21h-2.9M309.6,273.62h-4.8M309.6,271.03h-2.9M309.6,268.44h-2.9M309.6,265.84h-2.9M309.6,263.25h-2.9M309.6,260.66h-4.8M309.6,258.07h-2.9M309.6,255.48h-2.9M309.6,252.88h-2.9M309.6,250.29h-2.9M309.6,247.7h-4.8" stroke="#000" stroke-width="1" fill="none"/>
<path d="M309,312.5H512.1" stroke="#000" stroke-width="1.8" fill="none"/>
<path d="M309.6,312.5v3.8M324.79,312.5v2.6M333.68,312.5v2.6M339.99,312.5v2.6M344.88,312.5v2.6M348.88,312.5v2.6M352.26,312.5v2.6M355.18,312.5v2.6M357.77,312.5v2.6M360.08,312.5v3.8M375.27,312.5v2.6M384.16,312.5v2.6M390.46,312.5v2.6M395.36,312.5v2.6M399.35,312.5v2.6M402.73,312.5v2.6M405.66,312.5v2.6M408.24,312.5v2.6M410.55,312.5v3.8M425.74,312.5v2.6M434.63,312.5v2.6M440.94,312.5v2.6M445.83,312.5v2.6M449.83,312.5v2.6M453.21,312.5v2.6M456.13,312.5v2.6M458.72,312.5v2.6M461.02,312.5v3.8M476.22,312.5v2.6M485.11,312.5v2.6M491.41,312.5v2.6M496.31,312.5v2.6M500.3,312.5v2.6M503.68,312.5v2.6M506.61,312.5v2.6M509.19,312.5v2.6M511.5,312.5v3.8" stroke="#000" stroke-width="1.1" fill="none"/>
<text x="303.44" y="326" font-size="8.2" fill="#111">10</text>
<text x="313.16" y="322.7" font-size="7.4" fill="#111">0</text>
<text x="353.92" y="326" font-size="8.2" fill="#111">10</text>
<text x="363.63" y="322.7" font-size="7.4" fill="#111">1</text>
<text x="404.39" y="326" font-size="8.2" fill="#111">10</text>
<text x="414.11" y="322.7" font-size="7.4" fill="#111">2</text>
<text x="454.87" y="326" font-size="8.2" fill="#111">10</text>
<text x="464.58" y="322.7" font-size="7.4" fill="#111">3</text>
<text x="504.14" y="326" font-size="8.2" fill="#111">10</text>
<text x="513.86" y="322.7" font-size="7.4" fill="#111">4</text>
<path d="M77.5,342.3H281.5V410.3" stroke="#3a3a3a" stroke-width="1.2" fill="none"/>
<path d="M105,410.2 106.7,410 108.4,409.89 110.1,409.64 111.8,409.77 113.5,409.39 115.2,410 116.9,409.89 118.6,409.13 120.3,409.45 122,408.09 123.7,407.62 125.4,407.54 127.1,406.39 128.8,405.62 130.5,404.14 131.53,401.91 132.55,401.11 133.57,399.18 134.6,397.71 135.6,395.95 136.6,395.44 137.27,393.6 137.93,392.52 138.6,390.87 140.7,390.21 142.7,391.71 144.7,389.23 145.37,387.87 146.03,386.97 146.7,386.17 147.22,384.67 147.75,382.53 148.28,380.66 148.8,379.01 148.92,378.25 149.04,376.74 149.16,374.85 149.28,372.8 149.4,371.87 149.52,370.06 149.64,368.69 149.76,367.04 149.88,364.99 150,362.89 151.1,364.62 152.2,365.05 153.3,366.05 154.37,367.4 155.43,368.85 156.5,371.23 157.32,372.83 158.15,373.55 158.98,375.74 159.8,377.1 160.9,379.32 161.18,377.51 161.45,375.99 161.72,374.11 162,372.79 162.19,371.74 162.38,370 162.57,368.08 162.76,366.73 162.95,365.1 163.15,363.55 163.34,362.49 163.53,360.36 163.72,358.84 163.91,357.54 164.1,355.23 164.47,353.88 164.83,352.79 165.2,350.87 165.57,349.97 165.93,347.7 166.3,346.77 167.4,348.17 168.5,350 169.05,352.05 169.6,353.44 170.15,355.56 170.7,356.28 171,358.56 171.3,359.63 171.6,360.78 171.9,363.41 172.2,364.06 172.5,366.13 172.8,367.87 173.11,369.01 173.43,370.93 173.74,372.19 174.06,374.34 174.37,375.69 174.69,377.16 175,377.94 175.44,377.34 175.88,375.68 176.32,374.4 176.76,372.26 177.2,370.65 177.62,369.5 178.04,367.89 178.46,366.73 178.88,364.28 179.3,363.41 180.15,361.92 181,360.51 181.8,361.91 182.6,363.96 183.33,366.02 184.07,367.2 184.8,368.29 185.17,370.69 185.53,371.8 185.9,373.32 186.27,374.71 186.63,377.26 187,378.68 187.53,379.79 188.07,381.54 188.6,383.42 189.13,385.39 189.67,386.88 190.2,387.8 191.3,390.36 192.4,391.31 192.87,390.09 193.34,388.26 193.81,386.51 194.29,385.5 194.76,383.4 195.23,382.32 195.7,381.02 196.15,378.84 196.6,377.86 197.05,376.27 197.5,375.17 197.95,373.3 198.4,371.57 200,370.53 200.29,372.05 200.57,374.46 200.86,375.76 201.15,377.43 201.44,378.41 201.73,380.02 202.01,381.91 202.3,382.91 202.88,384.55 203.45,386.05 204.03,388.27 204.6,388.78 205.18,390.32 205.75,391.56 206.33,393.7 206.9,395.33 207.62,393.37 208.34,392 209.07,391.27 209.79,388.79 210.51,387.39 211.23,386.74 211.96,385.52 212.68,383.5 213.4,382.12 214.13,384.03 214.86,385.2 215.59,386.2 216.31,388.29 217.04,389.88 217.77,391.55 218.5,392.93 219.45,394 220.4,394.83 221.35,396.37 222.3,397.75 223.25,399.42 224.2,401.18 225.37,399.84 226.53,398.42 227.7,398.34 228.87,397.04 230.03,396.11 231.2,394.77 232.34,395.91 233.48,396.81 234.62,398.75 235.76,399.9 236.9,400.55 238.05,402.04 239.2,403.01 240.35,403.76 241.5,405.12 243.05,405.73 244.6,406.13 246.15,406.35 247.7,407.39 249.25,407.35 250.8,407.94 252.44,407.41 254.09,408.31 255.73,407.79 257.37,408.1 259.01,409 260.66,409 262.3,408.35 263.84,409.64 265.38,409.2 266.92,409.51 268.46,409.97 270,410" fill="none" stroke="#1a1a1a" stroke-width="1.05" stroke-linejoin="round" stroke-linecap="round" />
<path d="M80,410 81.5,409.8 83,409.64 84.5,409.51 86,409.8 87.5,409.8 89,409.69 90.5,409.8 92,409.8 93.5,409.36 95,409.66 96.52,409.09 98.04,409.8 99.56,409.58 101.08,408.91 102.6,409.73 104.12,409.63 105.64,409.41 107.16,409.73 108.68,409.33 110.2,408.71 111.45,408.2 112.7,407.41 113.95,405.43 115.2,404.81 116.47,404 117.75,401.93 119.03,401.41 120.3,400.1 121.08,398.63 121.85,397.15 122.62,394.85 123.4,394.16 123.8,391.67 124.2,390.57 124.6,388.6 125,387.66 125.4,385.56 125.9,384.42 126.4,383.01 126.9,381.45 127.4,379.76 128.43,378.31 129.47,376.23 130.5,374.52 132.55,374.13 134.6,373.27 135.1,372 135.6,370.96 136.1,368.45 136.6,366.91 136.85,365.92 137.1,364.06 137.35,363.27 137.6,361.21 137.85,359.37 138.1,358.47 138.47,357.31 138.85,355.31 139.22,353.48 139.6,351.94 141.2,350.87 142.03,352.65 142.87,354.99 143.7,355.79 144.2,358.51 144.7,360.22 145.2,361.94 145.7,362.89 146.4,364.94 147.1,366.15 147.8,367.19 149.8,369.22 150,370.72 150.22,369.85 150.44,367.1 150.66,366.4 150.88,364.54 151.1,363.22 151.32,361.33 151.54,359.59 151.76,357.43 151.98,355.84 152.2,354.85 152.59,352.38 152.97,351.88 153.36,349.28 153.74,348.4 154.13,346.96 154.51,345.18 154.9,342.6 155.57,344.12 156.25,346.38 156.93,347.97 157.6,348.66 157.91,350.32 158.23,352.34 158.54,353.4 158.86,355.31 159.17,357.2 159.49,358.6 159.8,360.41 160.24,362.1 160.68,363.28 161.12,364.46 161.56,365.72 162,367.69 162.53,366.31 163.07,365 163.6,363.87 163.92,361.66 164.24,360.38 164.56,358.73 164.88,357.2 165.2,355.27 165.93,354.77 166.67,352.66 167.4,351.75 168.5,352.85 169.6,353.37 169.95,354.61 170.3,356.21 170.65,358.25 171,359.82 171.35,361.63 171.7,363.73 171.98,365.24 172.27,366.56 172.55,367.72 172.83,369.36 173.12,370.93 173.4,373.38 173.8,374.55 174.2,375.75 174.6,377.93 175,379.77 176.1,380.09 177.2,381.48 178.3,383.09 179.37,381.91 180.43,379.54 181.5,378.58 182.6,379.45 183.7,380.6 184.43,382.05 185.17,383.99 185.9,385.06 186.7,386.18 187.5,387.47 188.3,389.58 189.1,390.73 190.2,392.79 191.3,394.44 193.5,393.85 195.1,392.28 196.7,391.33 198.35,392.96 200,393.39 201.15,395.37 202.3,395.83 203.45,397.73 204.6,398.03 205.75,399.24 206.9,400.9 208.45,401.28 210,401.19 211.55,401.74 213.1,401.99 214.65,403.05 216.2,402.74 217.73,403.15 219.27,403.56 220.8,403.89 222.33,404.67 223.87,405.32 225.4,405.21 226.85,405.3 228.3,404.83 229.75,404.08 231.2,403.68 233.1,404.34 235,405.26 236.9,405.35 238.56,405.98 240.21,406.1 241.87,406.05 243.53,406.13 245.19,406.17 246.84,406.93 248.5,406.9 250.03,406.87 251.57,407.57 253.1,407.92 254.63,407.45 256.17,408.21 257.7,408.41 259.23,408.13 260.77,408.53 262.3,408.01 263.83,408.08 265.37,408.31 266.9,408.43 268.43,409.01 269.97,409.54 271.5,409.8 273.2,409.13 274.9,409.23 276.6,409.8 278.3,409.8 280,410" fill="none" stroke="#000" stroke-width="2.2" stroke-linejoin="round" stroke-linecap="round" />
<path d="M77.5,342.3V410.3" stroke="#111" stroke-width="1.2" fill="none"/>
<path d="M77.5,410.3h-4.8M77.5,407.71h-2.9M77.5,405.12h-2.9M77.5,402.52h-2.9M77.5,399.93h-2.9M77.5,397.34h-4.8M77.5,394.75h-2.9M77.5,392.16h-2.9M77.5,389.56h-2.9M77.5,386.97h-2.9M77.5,384.38h-4.8M77.5,381.79h-2.9M77.5,379.2h-2.9M77.5,376.6h-2.9M77.5,374.01h-2.9M77.5,371.42h-4.8M77.5,368.83h-2.9M77.5,366.24h-2.9M77.5,363.64h-2.9M77.5,361.05h-2.9M77.5,358.46h-4.8M77.5,355.87h-2.9M77.5,353.28h-2.9M77.5,350.68h-2.9M77.5,348.09h-2.9M77.5,345.5h-4.8" stroke="#000" stroke-width="1" fill="none"/>
<path d="M76.9,410.3H282.1" stroke="#000" stroke-width="1.8" fill="none"/>
<path d="M77.5,410.3v3.8M92.85,410.3v2.6M101.83,410.3v2.6M108.21,410.3v2.6M113.15,410.3v2.6M117.19,410.3v2.6M120.6,410.3v2.6M123.56,410.3v2.6M126.17,410.3v2.6M128.5,410.3v3.8M143.85,410.3v2.6M152.83,410.3v2.6M159.21,410.3v2.6M164.15,410.3v2.6M168.19,410.3v2.6M171.6,410.3v2.6M174.56,410.3v2.6M177.17,410.3v2.6M179.5,410.3v3.8M194.85,410.3v2.6M203.83,410.3v2.6M210.21,410.3v2.6M215.15,410.3v2.6M219.19,410.3v2.6M222.6,410.3v2.6M225.56,410.3v2.6M228.17,410.3v2.6M230.5,410.3v3.8M245.85,410.3v2.6M254.83,410.3v2.6M261.21,410.3v2.6M266.15,410.3v2.6M270.19,410.3v2.6M273.6,410.3v2.6M276.56,410.3v2.6M279.17,410.3v2.6M281.5,410.3v3.8" stroke="#000" stroke-width="1.1" fill="none"/>
<text x="71.34" y="424.5" font-size="8.2" fill="#111">10</text>
<text x="81.06" y="421.2" font-size="7.4" fill="#111">0</text>
<text x="122.34" y="424.5" font-size="8.2" fill="#111">10</text>
<text x="132.06" y="421.2" font-size="7.4" fill="#111">1</text>
<text x="173.34" y="424.5" font-size="8.2" fill="#111">10</text>
<text x="183.06" y="421.2" font-size="7.4" fill="#111">2</text>
<text x="224.34" y="424.5" font-size="8.2" fill="#111">10</text>
<text x="234.06" y="421.2" font-size="7.4" fill="#111">3</text>
<text x="274.14" y="424.5" font-size="8.2" fill="#111">10</text>
<text x="283.86" y="421.2" font-size="7.4" fill="#111">4</text>
<path d="M309.5,343.2H509V408" stroke="#3a3a3a" stroke-width="1.2" fill="none"/>
<path d="M325,408 326.56,407.7 328.12,407.7 329.69,407.7 331.25,407.7 332.81,407.7 334.38,407.38 335.94,407.11 337.5,407.16 338.93,406.49 340.36,406.42 341.79,406.33 343.21,405.26 344.64,404.42 346.07,404.54 347.5,403.71 348.57,402.3 349.64,401.74 350.71,400.47 351.79,398.93 352.86,397.05 353.93,395.78 355,395.18 355.83,394.28 356.67,392.69 357.5,390.87 358.33,390.15 359.17,388.47 360,387.38 360.71,386.6 361.43,384.62 362.14,383.22 362.86,381.47 363.57,379.88 364.29,378.8 365,377.67 365.38,376.37 365.75,374.02 366.12,372.76 366.5,372.04 366.88,370.08 367.25,367.95 367.62,366.73 368,365.45 368.38,363.56 368.75,362.12 369.56,361.52 370.38,359.34 371.19,357.82 372,356.45 373.5,357.91 375,359.32 375.94,360.72 376.88,361.85 377.81,363.09 378.75,364.72 379.22,363.15 379.69,362.42 380.16,360.65 380.62,359.07 381.09,357.11 381.56,355.34 382.03,354.51 382.5,352.99 383,350.88 383.5,350 384,347.7 384.5,346.83 385,345.61 385.5,343.97 386.04,345.17 386.58,346.38 387.12,348.09 387.67,349.17 388.21,351.14 388.75,352.76 389.09,353.77 389.43,355.23 389.77,356.69 390.11,358.68 390.45,359.29 390.8,361.54 391.14,362.38 391.48,364.08 391.82,365.95 392.16,366.75 392.5,368.3 393,366.87 393.5,366.41 394,364.25 394.5,362.34 395,361.43 395.5,359.98 396.15,358.03 396.8,357.1 397.45,355.15 398.1,353.42 398.75,352.7 399.25,354.3 399.75,355.65 400.25,356.49 400.75,358.93 401.25,360.13 401.42,361.32 401.6,363.36 401.77,364.39 401.94,366.46 402.12,367.29 402.29,369.23 402.46,370.63 402.63,372.88 402.81,374.16 402.98,375.25 403.15,376.68 403.33,378.59 403.5,380.04 405.2,380.9 406.9,381.97 408.28,381.7 409.66,380.34 411.04,379.72 412.42,379.19 413.8,377.23 414.44,379.05 415.09,380.5 415.73,381.92 416.38,383.2 417.02,384.45 417.67,386.24 418.31,387.56 418.96,389.55 419.6,389.86 421.53,390.64 423.47,391.68 425.4,391.86 426.08,390.66 426.76,388.72 427.44,386.82 428.12,385.79 428.8,385.1 429.53,386.62 430.25,388.08 430.98,388.86 431.7,390.7 432.43,391.51 433.15,392.71 433.88,394.29 434.6,396.19 435.98,395.14 437.36,394.49 438.74,394.62 440.12,392.89 441.5,392.46 443.25,393.05 445,394.12 446.75,394.5 448.5,394.8 450.23,395.14 451.95,396.04 453.67,395.85 455.4,396.68 456.85,396.31 458.3,397.13 459.75,398.33 461.2,398.38 462.34,399.59 463.48,400.42 464.62,402.42 465.76,402.68 466.9,403.73 468.28,404.43 469.66,405.48 471.04,406.63 472.42,406.95 473.8,407.7 475.4,407.7 477,407.7 478.6,407.64 480.2,407.7 481.8,407.7 483.4,407.7 485,408" fill="none" stroke="#1a1a1a" stroke-width="1.05" stroke-linejoin="round" stroke-linecap="round" />
<path d="M310,408 311.5,407.41 313,407.5 314.5,407.5 316,407.5 317.5,407.49 319,407.5 320.5,407.1 322,407.5 323.5,407.5 325,407.5 326.56,407.5 328.12,406.8 329.69,407.46 331.25,406.66 332.81,406.84 334.38,406.63 335.94,406.64 337.5,406.59 339,405.87 340.5,404.98 342,404.58 343.5,403.98 345,404.12 346.25,402.8 347.5,401.48 348.75,400.33 350,398.16 350.94,396.89 351.88,395.56 352.81,393.64 353.75,392.6 354.29,391.54 354.82,389.71 355.36,388.06 355.89,387.04 356.43,385.87 356.96,383.92 357.5,382.3 357.92,380.68 358.33,379.7 358.75,378 359.17,376.65 359.58,375.26 360,372.77 360.42,372.17 360.83,370.63 361.25,368.52 362.19,370.49 363.12,370.84 364.06,372.83 365,373.4 365.94,372 366.88,370.65 367.81,370.49 368.75,368.34 369.6,367.38 370.45,365.54 371.3,364.53 372.15,362.17 373,361.59 373.81,362.66 374.62,364.76 375.44,365.85 376.25,367.96 376.88,368.39 377.5,369.9 378.12,372.05 378.75,372.82 379.38,375.02 380,376.02 381.25,375.06 382.5,374.39 383.75,373.73 385,372.33 386.25,373.82 387.5,373.77 388.75,375.3 389.69,375.92 390.62,377.98 391.56,378.2 392.5,380.41 394.38,378.89 396.25,378.66 397.5,379.39 398.75,380.73 400,381.76 401.38,382.48 402.76,383.28 404.14,384.35 405.52,385.86 406.9,386.43 408.62,387.04 410.35,388.28 412.07,388.89 413.8,388.81 415.35,389.87 416.9,389.97 418.45,391.34 420,391.55 421.55,392.29 423.1,392.89 424.63,393.34 426.17,394.07 427.7,395.21 429.23,396.36 430.77,396.69 432.3,396.98 433.83,398.42 435.37,399.15 436.9,399.31 438.43,400.41 439.97,401.64 441.5,401.49 443.05,402.24 444.6,403.03 446.15,402.88 447.7,403.52 449.25,403.98 450.8,404.26 452.33,404.53 453.87,404.41 455.4,404.87 456.93,404.58 458.47,405.26 460,405.63 461.53,406.12 463.07,405.64 464.6,405.79 466.13,406.38 467.67,406.42 469.2,407.47 470.86,406.78 472.51,407.5 474.17,406.84 475.83,407.5 477.49,407.48 479.14,407.5 480.8,407.9" fill="none" stroke="#000" stroke-width="2.2" stroke-linejoin="round" stroke-linecap="round" />
<path d="M309.5,343.2V408" stroke="#111" stroke-width="1.2" fill="none"/>
<path d="M309.5,408h-4.8M309.5,405.41h-2.9M309.5,402.82h-2.9M309.5,400.22h-2.9M309.5,397.63h-2.9M309.5,395.04h-4.8M309.5,392.45h-2.9M309.5,389.86h-2.9M309.5,387.26h-2.9M309.5,384.67h-2.9M309.5,382.08h-4.8M309.5,379.49h-2.9M309.5,376.9h-2.9M309.5,374.3h-2.9M309.5,371.71h-2.9M309.5,369.12h-4.8M309.5,366.53h-2.9M309.5,363.94h-2.9M309.5,361.34h-2.9M309.5,358.75h-2.9M309.5,356.16h-4.8M309.5,353.57h-2.9M309.5,350.98h-2.9M309.5,348.38h-2.9M309.5,345.79h-2.9M309.5,343.2h-4.8" stroke="#000" stroke-width="1" fill="none"/>
<path d="M308.9,408H509.6" stroke="#000" stroke-width="1.8" fill="none"/>
<path d="M309.5,408v3.8M324.51,408v2.6M333.3,408v2.6M339.53,408v2.6M344.36,408v2.6M348.31,408v2.6M351.65,408v2.6M354.54,408v2.6M357.09,408v2.6M359.38,408v3.8M374.39,408v2.6M383.17,408v2.6M389.4,408v2.6M394.24,408v2.6M398.19,408v2.6M401.52,408v2.6M404.42,408v2.6M406.97,408v2.6M409.25,408v3.8M424.26,408v2.6M433.05,408v2.6M439.28,408v2.6M444.11,408v2.6M448.06,408v2.6M451.4,408v2.6M454.29,408v2.6M456.84,408v2.6M459.12,408v3.8M474.14,408v2.6M482.92,408v2.6M489.15,408v2.6M493.99,408v2.6M497.94,408v2.6M501.27,408v2.6M504.17,408v2.6M506.72,408v2.6M509,408v3.8" stroke="#000" stroke-width="1.1" fill="none"/>
<text x="303.34" y="421.1" font-size="8.2" fill="#111">10</text>
<text x="313.06" y="417.8" font-size="7.4" fill="#111">0</text>
<text x="353.22" y="421.1" font-size="8.2" fill="#111">10</text>
<text x="362.93" y="417.8" font-size="7.4" fill="#111">1</text>
<text x="403.09" y="421.1" font-size="8.2" fill="#111">10</text>
<text x="412.81" y="417.8" font-size="7.4" fill="#111">2</text>
<text x="452.97" y="421.1" font-size="8.2" fill="#111">10</text>
<text x="462.68" y="417.8" font-size="7.4" fill="#111">3</text>
<text x="501.64" y="421.1" font-size="8.2" fill="#111">10</text>
<text x="511.36" y="417.8" font-size="7.4" fill="#111">4</text>
<path d="M78.7,433.2H209.7" stroke="#000" stroke-width="1.3"/>
<path d="M219.7,433.2L208.7,428.2V438.2Z" fill="#000"/>
<text x="227.3" y="436.9" font-size="13.3" text-anchor="start"  class="L">CFSE</text>
<path d="M306.3,431.5H436.4" stroke="#000" stroke-width="1.3"/>
<path d="M446.9,431.5L435.4,426.3V436.7Z" fill="#000"/>
<text x="454.6" y="435.8" font-size="13.3" text-anchor="start"  class="L">CFSE</text>
<text transform="translate(3.4,445.6) scale(1,1.1)" font-size="17" font-weight="bold">C</text>
<text x="130.3" y="469.8" font-size="13.3" text-anchor="middle"  class="L">medium</text>
<text x="211.7" y="468.7" font-size="13.3" class="L" letter-spacing="0.3"><tspan font-family="Liberation Serif" font-size="14">&#945;</tspan>CD3/CD28</text>
<text x="317.8" y="530" font-size="13.3" text-anchor="start"  class="L">HD</text>
<text x="317.8" y="641.1" font-size="13.3" text-anchor="start"  class="L">P2</text>
<text x="249.5" y="705.2" font-size="13.3" text-anchor="start"  class="L">CD107</text>
<path d="M64.3,489.8V557M64.3,598.8V681" stroke="#000" stroke-width="1.4"/>
<path d="M64.3,480.2L58.9,490.8H69.7Z" fill="#000"/>
<text transform="translate(65.7,580) rotate(-90)" font-size="13.3" class="L" text-anchor="middle">IFN<tspan font-family="Liberation Serif" font-size="13">&#947;</tspan></text>
<path d="M73.8,701.6H229.8" stroke="#000" stroke-width="1.3"/>
<path d="M239.5,701.6L228.8,696.3V706.9Z" fill="#000"/>
<path d="M126 507.5h1M114 510.5h1M116 510.5h1M129 510.5h2M131 511.5h1M122 512.5h1M128 512.5h1M117 513.5h1M144 513.5h1M127 514.5h1M114 516.5h1M120 516.5h1M129 516.5h1M107 517.5h1M127 517.5h1M133 517.5h1M109 519.5h1M114 519.5h1M122 519.5h1M134 519.5h1M108 520.5h1M118 520.5h1M123 520.5h1M128 520.5h1M133 520.5h1M137 520.5h1M110 521.5h1M112 521.5h1M115 521.5h1M120 521.5h1M127 521.5h1M129 521.5h3M135 521.5h1M142 521.5h1M109 522.5h1M112 522.5h1M119 522.5h2M123 522.5h1M130 522.5h3M135 522.5h1M109 523.5h2M112 523.5h1M116 523.5h3M122 523.5h1M124 523.5h1M130 523.5h2M135 523.5h1M104 524.5h1M108 524.5h1M111 524.5h1M115 524.5h6M122 524.5h1M126 524.5h3M133 524.5h1M143 524.5h1M98 525.5h1M106 525.5h1M108 525.5h2M111 525.5h2M114 525.5h1M116 525.5h3M120 525.5h3M124 525.5h1M126 525.5h1M129 525.5h2M141 525.5h1M101 526.5h1M104 526.5h1M106 526.5h2M109 526.5h12M123 526.5h1M125 526.5h3M129 526.5h1M137 526.5h1M101 527.5h4M108 527.5h12M121 527.5h3M125 527.5h3M129 527.5h3M137 527.5h3M144 527.5h1M96 528.5h1M102 528.5h23M127 528.5h1M129 528.5h2M134 528.5h1M144 528.5h1M95 529.5h1M97 529.5h3M101 529.5h23M125 529.5h3M129 529.5h1M132 529.5h3M136 529.5h1M138 529.5h2M142 529.5h1M94 530.5h1M96 530.5h1M98 530.5h1M100 530.5h23M124 530.5h8M135 530.5h1M139 530.5h1M144 530.5h1M93 531.5h1M95 531.5h29M125 531.5h7M134 531.5h1M136 531.5h2M90 532.5h1M92 532.5h1M97 532.5h18M116 532.5h6M123 532.5h2M126 532.5h1M128 532.5h3M135 532.5h1M137 532.5h1M88 533.5h37M126 533.5h3M130 533.5h3M134 533.5h2M137 533.5h3M145 533.5h1M85 534.5h1M91 534.5h2M94 534.5h30M125 534.5h7M134 534.5h1M86 535.5h1M88 535.5h2M93 535.5h28M122 535.5h2M125 535.5h3M129 535.5h3M139 535.5h1M142 535.5h1M88 536.5h2M91 536.5h27M119 536.5h1M121 536.5h3M125 536.5h5M131 536.5h5M137 536.5h1M152 536.5h1M90 537.5h36M127 537.5h1M132 537.5h1M134 537.5h1M136 537.5h1M142 537.5h1M87 538.5h5M93 538.5h22M116 538.5h6M123 538.5h1M125 538.5h1M128 538.5h1M130 538.5h4M136 538.5h2M139 538.5h2M80 539.5h1M85 539.5h1M89 539.5h1M91 539.5h1M93 539.5h20M114 539.5h1M118 539.5h3M125 539.5h1M127 539.5h1M129 539.5h1M131 539.5h2M134 539.5h1M138 539.5h1M144 539.5h1M148 539.5h1M86 540.5h3M90 540.5h14M105 540.5h6M112 540.5h3M116 540.5h4M121 540.5h2M125 540.5h3M129 540.5h6M136 540.5h1M143 540.5h1M85 541.5h1M87 541.5h1M89 541.5h26M117 541.5h3M121 541.5h5M130 541.5h2M133 541.5h2M137 541.5h1M139 541.5h1M142 541.5h1M84 542.5h1M86 542.5h26M113 542.5h1M115 542.5h1M118 542.5h1M122 542.5h1M126 542.5h1M129 542.5h1M134 542.5h2M138 542.5h1M79 543.5h1M83 543.5h1M85 543.5h20M106 543.5h1M110 543.5h3M114 543.5h1M116 543.5h1M118 543.5h5M124 543.5h3M130 543.5h3M144 543.5h1M82 544.5h1M84 544.5h15M100 544.5h8M110 544.5h1M112 544.5h2M118 544.5h1M121 544.5h1M123 544.5h1M125 544.5h1M128 544.5h1M133 544.5h1M135 544.5h1M137 544.5h1M88 545.5h1M90 545.5h14M105 545.5h1M107 545.5h1M111 545.5h1M113 545.5h1M116 545.5h1M118 545.5h1M120 545.5h3M125 545.5h1M127 545.5h2M130 545.5h1M142 545.5h1M145 545.5h1M82 546.5h1M84 546.5h1M87 546.5h5M93 546.5h8M102 546.5h2M105 546.5h2M109 546.5h1M114 546.5h2M120 546.5h1M125 546.5h2M128 546.5h2M131 546.5h1M144 546.5h1M154 546.5h1M85 547.5h10M96 547.5h7M104 547.5h1M106 547.5h2M110 547.5h1M112 547.5h2M124 547.5h4M129 547.5h1M138 547.5h1M140 547.5h1M80 548.5h1M82 548.5h1M85 548.5h1M87 548.5h1M89 548.5h2M92 548.5h7M100 548.5h1M104 548.5h1M110 548.5h2M117 548.5h1M125 548.5h4M130 548.5h1M138 548.5h1M79 549.5h1M81 549.5h1M84 549.5h1M87 549.5h1M89 549.5h5M95 549.5h1M98 549.5h1M103 549.5h2M114 549.5h1M119 549.5h1M125 549.5h3M129 549.5h1M147 549.5h1M78 550.5h1M81 550.5h1M84 550.5h1M88 550.5h3M96 550.5h1M98 550.5h2M109 550.5h1M127 550.5h1M82 551.5h1M84 551.5h1M91 551.5h2M94 551.5h1M105 551.5h1M108 551.5h1M113 551.5h1M122 551.5h1M126 551.5h1M138 551.5h1M83 552.5h1M90 552.5h2M98 552.5h1M111 552.5h1M115 552.5h1M117 552.5h1M119 552.5h1M122 552.5h1M128 552.5h1M84 553.5h1M89 553.5h1M91 553.5h1M99 553.5h1M110 553.5h1M115 553.5h1M133 553.5h1M86 554.5h1M100 554.5h1M105 554.5h1M124 554.5h1M127 554.5h1M140 554.5h1M112 555.5h1M114 555.5h1M138 555.5h1M155 555.5h1M109 556.5h1M100 557.5h1M103 557.5h2M106 557.5h1M121 557.5h1M114 558.5h1M119 558.5h1M98 560.5h1M93 561.5h1M91 562.5h1M112 565.5h1M133 565.5h1M110 569.5h1M118 570.5h1" stroke="#000" stroke-width="1" fill="none" shape-rendering="crispEdges"/>
<rect x="75.7" y="480" width="110.7" height="93.7" stroke="#222" stroke-width="1.1" fill="none"/>
<path d="M119.2,480V573.7M75.7,526.7H186.4" stroke="#222" stroke-width="1.3" fill="none"/>
<path d="M75.7,573.7h-3.2M75.7,566.65h-2M75.7,562.52h-2M75.7,559.6h-2M75.7,557.33h-2M75.7,555.47h-2M75.7,553.9h-2M75.7,552.55h-2M75.7,551.35h-2M75.7,550.28h-3.2M75.7,543.22h-2M75.7,539.1h-2M75.7,536.17h-2M75.7,533.9h-2M75.7,532.05h-2M75.7,530.48h-2M75.7,529.12h-2M75.7,527.92h-2M75.7,526.85h-3.2M75.7,519.8h-2M75.7,515.67h-2M75.7,512.75h-2M75.7,510.48h-2M75.7,508.62h-2M75.7,507.05h-2M75.7,505.7h-2M75.7,504.5h-2M75.7,503.43h-3.2M75.7,496.37h-2M75.7,492.25h-2M75.7,489.32h-2M75.7,487.05h-2M75.7,485.2h-2M75.7,483.63h-2M75.7,482.27h-2M75.7,481.07h-2M75.7,480h-3.2" stroke="#000" stroke-width="0.9" fill="none"/>
<path d="M75.7,573.7H186.4" stroke="#111" stroke-width="1.5" fill="none"/>
<path d="M75.7,573.7v3M84.03,573.7v2M88.9,573.7v2M92.36,573.7v2M95.04,573.7v2M97.24,573.7v2M99.09,573.7v2M100.69,573.7v2M102.11,573.7v2M103.38,573.7v3M111.71,573.7v2M116.58,573.7v2M120.04,573.7v2M122.72,573.7v2M124.91,573.7v2M126.76,573.7v2M128.37,573.7v2M129.78,573.7v2M131.05,573.7v3M139.38,573.7v2M144.25,573.7v2M147.71,573.7v2M150.39,573.7v2M152.59,573.7v2M154.44,573.7v2M156.04,573.7v2M157.46,573.7v2M158.73,573.7v3M167.06,573.7v2M171.93,573.7v2M175.39,573.7v2M178.07,573.7v2M180.26,573.7v2M182.11,573.7v2M183.72,573.7v2M185.13,573.7v2M186.4,573.7v3" stroke="#000" stroke-width="1.1" fill="none"/>
<text x="70.84" y="583.7" font-size="6.4" fill="#333">10</text>
<text x="78.46" y="580.7" font-size="5" fill="#333">0</text>
<text x="98.52" y="583.7" font-size="6.4" fill="#333">10</text>
<text x="106.13" y="580.7" font-size="5" fill="#333">1</text>
<text x="126.19" y="583.7" font-size="6.4" fill="#333">10</text>
<text x="133.81" y="580.7" font-size="5" fill="#333">2</text>
<text x="153.87" y="583.7" font-size="6.4" fill="#333">10</text>
<text x="161.48" y="580.7" font-size="5" fill="#333">3</text>
<text x="180.84" y="583.7" font-size="6.4" fill="#333">10</text>
<text x="188.46" y="580.7" font-size="5" fill="#333">4</text>
<path d="M258 482.5h1M242 484.5h1M250 485.5h1M238 486.5h1M248 486.5h1M253 486.5h1M254 487.5h1M257 487.5h1M250 488.5h1M252 488.5h1M232 490.5h2M244 490.5h1M247 490.5h1M252 490.5h1M257 490.5h1M238 491.5h2M243 491.5h1M248 491.5h1M259 491.5h1M230 492.5h1M244 492.5h1M248 492.5h1M251 492.5h1M253 492.5h1M237 493.5h3M249 493.5h1M254 493.5h2M238 494.5h1M249 494.5h2M254 494.5h1M256 494.5h1M258 494.5h2M229 495.5h1M232 495.5h1M244 495.5h1M246 495.5h3M255 495.5h2M258 495.5h1M236 496.5h1M242 496.5h2M250 496.5h1M257 496.5h1M259 496.5h2M264 496.5h2M233 497.5h1M240 497.5h1M242 497.5h1M244 497.5h4M249 497.5h4M257 497.5h1M259 497.5h1M233 498.5h1M241 498.5h1M245 498.5h3M249 498.5h3M253 498.5h1M258 498.5h1M262 498.5h1M236 499.5h1M242 499.5h1M247 499.5h1M252 499.5h2M239 500.5h1M244 500.5h1M246 500.5h1M248 500.5h1M250 500.5h5M258 500.5h1M226 501.5h1M237 501.5h1M240 501.5h1M242 501.5h4M247 501.5h1M249 501.5h3M253 501.5h1M256 501.5h4M267 501.5h1M237 502.5h1M245 502.5h1M248 502.5h1M251 502.5h2M254 502.5h1M256 502.5h4M225 503.5h1M227 503.5h1M235 503.5h1M243 503.5h2M251 503.5h1M254 503.5h3M258 503.5h2M263 503.5h2M226 504.5h1M231 504.5h1M236 504.5h1M241 504.5h2M244 504.5h1M246 504.5h4M252 504.5h2M255 504.5h1M262 504.5h1M266 504.5h1M225 505.5h1M230 505.5h3M239 505.5h2M242 505.5h1M244 505.5h3M248 505.5h3M252 505.5h1M254 505.5h1M258 505.5h2M236 506.5h1M240 506.5h2M243 506.5h4M248 506.5h1M261 506.5h1M222 507.5h1M229 507.5h2M232 507.5h1M236 507.5h2M239 507.5h2M243 507.5h1M247 507.5h11M259 507.5h1M261 507.5h1M234 508.5h1M236 508.5h5M243 508.5h3M247 508.5h5M254 508.5h1M256 508.5h2M260 508.5h1M274 508.5h1M221 509.5h1M226 509.5h1M229 509.5h1M234 509.5h1M238 509.5h9M248 509.5h2M252 509.5h2M256 509.5h1M259 509.5h1M261 509.5h1M266 509.5h1M222 510.5h1M228 510.5h1M234 510.5h2M239 510.5h1M241 510.5h1M243 510.5h3M247 510.5h7M255 510.5h1M258 510.5h1M264 510.5h1M266 510.5h1M268 510.5h1M221 511.5h1M225 511.5h1M228 511.5h1M232 511.5h1M234 511.5h3M241 511.5h6M249 511.5h1M251 511.5h1M253 511.5h2M267 511.5h1M221 512.5h1M231 512.5h1M234 512.5h1M240 512.5h1M242 512.5h3M246 512.5h1M248 512.5h4M253 512.5h4M258 512.5h1M267 512.5h1M217 513.5h1M228 513.5h1M231 513.5h1M234 513.5h1M237 513.5h1M240 513.5h1M242 513.5h1M244 513.5h1M246 513.5h1M248 513.5h1M250 513.5h1M253 513.5h1M256 513.5h2M260 513.5h1M265 513.5h1M228 514.5h1M231 514.5h2M235 514.5h1M240 514.5h2M243 514.5h1M245 514.5h5M251 514.5h3M259 514.5h1M267 514.5h1M227 515.5h1M232 515.5h1M235 515.5h1M238 515.5h1M240 515.5h4M245 515.5h8M255 515.5h2M262 515.5h1M268 515.5h1M224 516.5h3M228 516.5h1M233 516.5h1M235 516.5h3M239 516.5h7M247 516.5h3M251 516.5h3M257 516.5h1M261 516.5h1M222 517.5h1M226 517.5h1M228 517.5h1M231 517.5h3M235 517.5h2M238 517.5h2M242 517.5h1M246 517.5h2M251 517.5h2M254 517.5h2M259 517.5h1M261 517.5h1M217 518.5h1M221 518.5h1M225 518.5h1M227 518.5h1M231 518.5h1M234 518.5h2M237 518.5h1M239 518.5h5M245 518.5h1M247 518.5h3M254 518.5h1M256 518.5h1M259 518.5h1M264 518.5h1M266 518.5h1M219 519.5h1M230 519.5h4M235 519.5h1M237 519.5h2M243 519.5h3M249 519.5h3M255 519.5h1M259 519.5h1M222 520.5h2M228 520.5h1M231 520.5h1M233 520.5h2M236 520.5h1M238 520.5h1M240 520.5h1M243 520.5h4M248 520.5h2M254 520.5h3M261 520.5h2M226 521.5h1M228 521.5h1M232 521.5h3M238 521.5h1M240 521.5h1M243 521.5h1M245 521.5h4M250 521.5h4M259 521.5h1M278 521.5h1M212 522.5h1M224 522.5h3M232 522.5h2M235 522.5h1M240 522.5h1M242 522.5h1M244 522.5h3M248 522.5h1M251 522.5h5M258 522.5h1M261 522.5h1M217 523.5h1M226 523.5h3M231 523.5h1M233 523.5h1M235 523.5h2M238 523.5h1M241 523.5h2M244 523.5h1M246 523.5h1M248 523.5h6M255 523.5h3M260 523.5h1M262 523.5h1M219 524.5h1M227 524.5h1M229 524.5h3M233 524.5h1M236 524.5h2M241 524.5h2M246 524.5h9M257 524.5h3M214 525.5h1M218 525.5h1M221 525.5h1M223 525.5h1M225 525.5h2M228 525.5h6M236 525.5h1M238 525.5h1M240 525.5h2M243 525.5h2M248 525.5h1M254 525.5h1M259 525.5h1M262 525.5h1M265 525.5h2M275 525.5h1M222 526.5h1M225 526.5h1M227 526.5h4M232 526.5h11M245 526.5h5M252 526.5h3M261 526.5h1M215 527.5h1M217 527.5h1M219 527.5h1M221 527.5h1M224 527.5h21M246 527.5h2M250 527.5h1M252 527.5h2M257 527.5h2M262 527.5h2M269 527.5h1M216 528.5h3M221 528.5h6M229 528.5h20M250 528.5h1M255 528.5h6M262 528.5h1M264 528.5h2M217 529.5h1M219 529.5h1M221 529.5h27M249 529.5h8M259 529.5h2M217 530.5h1M219 530.5h1M221 530.5h6M228 530.5h11M240 530.5h6M247 530.5h4M253 530.5h2M256 530.5h3M218 531.5h30M249 531.5h7M257 531.5h1M260 531.5h1M208 532.5h1M211 532.5h2M215 532.5h1M218 532.5h1M220 532.5h20M241 532.5h12M254 532.5h2M257 532.5h1M259 532.5h1M268 532.5h1M273 532.5h1M209 533.5h1M211 533.5h1M213 533.5h1M215 533.5h1M217 533.5h1M219 533.5h38M258 533.5h2M216 534.5h2M219 534.5h37M257 534.5h2M262 534.5h1M212 535.5h2M216 535.5h1M218 535.5h34M254 535.5h3M258 535.5h4M264 535.5h1M271 535.5h1M212 536.5h1M216 536.5h3M220 536.5h39M261 536.5h3M204 537.5h1M213 537.5h2M216 537.5h43M262 537.5h1M264 537.5h2M201 538.5h1M214 538.5h1M217 538.5h6M224 538.5h20M245 538.5h5M251 538.5h6M258 538.5h1M260 538.5h1M262 538.5h1M274 538.5h1M207 539.5h1M210 539.5h3M214 539.5h2M217 539.5h5M223 539.5h28M252 539.5h8M264 539.5h1M200 540.5h1M206 540.5h2M211 540.5h1M216 540.5h3M220 540.5h2M223 540.5h4M228 540.5h18M248 540.5h1M250 540.5h6M257 540.5h5M288 540.5h1M202 541.5h2M205 541.5h2M208 541.5h1M212 541.5h1M214 541.5h1M217 541.5h29M247 541.5h2M250 541.5h5M256 541.5h3M261 541.5h1M263 541.5h1M265 541.5h1M210 542.5h1M212 542.5h1M217 542.5h3M221 542.5h1M224 542.5h12M237 542.5h9M247 542.5h3M251 542.5h5M260 542.5h2M265 542.5h1M270 542.5h1M208 543.5h1M211 543.5h3M216 543.5h1M218 543.5h2M222 543.5h9M232 543.5h1M234 543.5h5M240 543.5h3M244 543.5h1M246 543.5h2M249 543.5h9M262 543.5h2M270 543.5h1M206 544.5h1M208 544.5h1M211 544.5h1M213 544.5h2M219 544.5h1M222 544.5h1M225 544.5h4M230 544.5h5M236 544.5h2M239 544.5h8M248 544.5h9M258 544.5h1M203 545.5h1M211 545.5h5M217 545.5h1M221 545.5h1M223 545.5h1M226 545.5h1M228 545.5h3M232 545.5h2M236 545.5h1M240 545.5h5M247 545.5h5M254 545.5h2M257 545.5h4M262 545.5h1M265 545.5h1M267 545.5h1M272 545.5h1M211 546.5h2M214 546.5h6M221 546.5h2M225 546.5h1M228 546.5h2M234 546.5h1M236 546.5h5M242 546.5h3M246 546.5h3M250 546.5h4M255 546.5h2M259 546.5h2M265 546.5h1M205 547.5h1M207 547.5h1M210 547.5h3M214 547.5h1M216 547.5h1M219 547.5h2M223 547.5h2M230 547.5h2M239 547.5h2M243 547.5h6M250 547.5h3M254 547.5h2M258 547.5h1M261 547.5h1M266 547.5h1M203 548.5h3M210 548.5h2M213 548.5h1M216 548.5h1M219 548.5h2M225 548.5h1M230 548.5h1M232 548.5h1M240 548.5h4M245 548.5h3M249 548.5h2M252 548.5h1M255 548.5h5M264 548.5h1M266 548.5h1M210 549.5h1M213 549.5h4M220 549.5h4M228 549.5h1M235 549.5h2M239 549.5h1M245 549.5h3M250 549.5h2M253 549.5h2M256 549.5h1M258 549.5h3M266 549.5h1M212 550.5h2M215 550.5h3M219 550.5h1M221 550.5h1M232 550.5h1M245 550.5h1M247 550.5h3M252 550.5h1M254 550.5h4M203 551.5h1M206 551.5h1M208 551.5h1M211 551.5h1M213 551.5h1M220 551.5h1M234 551.5h1M238 551.5h1M241 551.5h6M250 551.5h3M254 551.5h2M264 551.5h1M214 552.5h2M227 552.5h1M229 552.5h1M235 552.5h1M238 552.5h1M241 552.5h1M243 552.5h1M248 552.5h1M250 552.5h4M255 552.5h3M261 552.5h2M206 553.5h1M212 553.5h1M222 553.5h1M237 553.5h1M239 553.5h2M244 553.5h1M246 553.5h1M249 553.5h2M254 553.5h1M257 553.5h1M263 553.5h1M205 554.5h1M210 554.5h1M212 554.5h1M222 554.5h1M239 554.5h1M242 554.5h2M246 554.5h1M249 554.5h2M253 554.5h1M256 554.5h1M266 554.5h1M284 554.5h1M210 555.5h1M213 555.5h1M222 555.5h1M225 555.5h1M230 555.5h1M235 555.5h1M244 555.5h1M246 555.5h1M213 556.5h1M232 556.5h1M245 556.5h1M247 556.5h1M256 556.5h1M262 556.5h2M249 557.5h1M255 557.5h1M257 557.5h1M239 558.5h1M249 558.5h1M215 559.5h1M235 559.5h1M239 559.5h1M247 559.5h1M250 559.5h1M252 559.5h1M254 559.5h1M256 559.5h1M261 559.5h1M241 560.5h1M245 560.5h1M247 560.5h1M259 560.5h1M242 561.5h1M245 561.5h2M261 561.5h1M234 562.5h1M255 562.5h1M260 562.5h1M250 563.5h1M257 563.5h1M250 564.5h1M262 564.5h1M272 564.5h1M225 570.5h1M229 570.5h1M249 570.5h1M240 571.5h1" stroke="#000" stroke-width="1" fill="none" shape-rendering="crispEdges"/>
<rect x="195.3" y="480" width="109.9" height="93.7" stroke="#222" stroke-width="1.1" fill="none"/>
<path d="M238.4,480V573.7M195.3,526.4H305.2" stroke="#222" stroke-width="1.3" fill="none"/>
<path d="M195.3,573.7h-3.2M195.3,566.65h-2M195.3,562.52h-2M195.3,559.6h-2M195.3,557.33h-2M195.3,555.47h-2M195.3,553.9h-2M195.3,552.55h-2M195.3,551.35h-2M195.3,550.28h-3.2M195.3,543.22h-2M195.3,539.1h-2M195.3,536.17h-2M195.3,533.9h-2M195.3,532.05h-2M195.3,530.48h-2M195.3,529.12h-2M195.3,527.92h-2M195.3,526.85h-3.2M195.3,519.8h-2M195.3,515.67h-2M195.3,512.75h-2M195.3,510.48h-2M195.3,508.62h-2M195.3,507.05h-2M195.3,505.7h-2M195.3,504.5h-2M195.3,503.43h-3.2M195.3,496.37h-2M195.3,492.25h-2M195.3,489.32h-2M195.3,487.05h-2M195.3,485.2h-2M195.3,483.63h-2M195.3,482.27h-2M195.3,481.07h-2M195.3,480h-3.2" stroke="#000" stroke-width="0.9" fill="none"/>
<path d="M195.3,573.7H305.2" stroke="#111" stroke-width="1.5" fill="none"/>
<path d="M195.3,573.7v3M203.57,573.7v2M208.41,573.7v2M211.84,573.7v2M214.5,573.7v2M216.68,573.7v2M218.52,573.7v2M220.11,573.7v2M221.52,573.7v2M222.78,573.7v3M231.05,573.7v2M235.88,573.7v2M239.32,573.7v2M241.98,573.7v2M244.15,573.7v2M245.99,573.7v2M247.59,573.7v2M248.99,573.7v2M250.25,573.7v3M258.52,573.7v2M263.36,573.7v2M266.79,573.7v2M269.45,573.7v2M271.63,573.7v2M273.47,573.7v2M275.06,573.7v2M276.47,573.7v2M277.73,573.7v3M286,573.7v2M290.83,573.7v2M294.27,573.7v2M296.93,573.7v2M299.1,573.7v2M300.94,573.7v2M302.54,573.7v2M303.94,573.7v2M305.2,573.7v3" stroke="#000" stroke-width="1.1" fill="none"/>
<text x="190.44" y="583.7" font-size="6.4" fill="#333">10</text>
<text x="198.06" y="580.7" font-size="5" fill="#333">0</text>
<text x="217.92" y="583.7" font-size="6.4" fill="#333">10</text>
<text x="225.53" y="580.7" font-size="5" fill="#333">1</text>
<text x="245.39" y="583.7" font-size="6.4" fill="#333">10</text>
<text x="253.01" y="580.7" font-size="5" fill="#333">2</text>
<text x="272.87" y="583.7" font-size="6.4" fill="#333">10</text>
<text x="280.48" y="580.7" font-size="5" fill="#333">3</text>
<text x="299.64" y="583.7" font-size="6.4" fill="#333">10</text>
<text x="307.26" y="580.7" font-size="5" fill="#333">4</text>
<path d="M121 603.5h1M130 603.5h1M110 604.5h1M148 607.5h1M117 608.5h1M115 609.5h1M116 610.5h1M104 611.5h1M107 612.5h1M119 612.5h1M121 612.5h1M131 612.5h1M109 613.5h1M117 614.5h1M120 614.5h2M106 615.5h1M120 615.5h1M125 615.5h1M115 616.5h1M125 616.5h1M118 617.5h3M132 617.5h1M102 618.5h1M109 618.5h1M113 618.5h2M119 618.5h1M112 619.5h2M116 619.5h1M122 619.5h1M125 619.5h1M134 619.5h1M141 619.5h1M93 620.5h1M100 620.5h1M115 620.5h1M126 620.5h2M130 620.5h1M144 620.5h1M102 621.5h1M117 621.5h2M121 621.5h1M124 621.5h1M83 622.5h1M102 622.5h1M111 622.5h1M131 622.5h1M136 622.5h1M103 623.5h1M107 623.5h1M113 623.5h1M121 623.5h3M127 623.5h1M108 624.5h2M120 624.5h1M124 624.5h1M129 624.5h1M131 624.5h1M135 624.5h1M141 624.5h1M114 625.5h2M120 625.5h5M127 625.5h5M143 625.5h1M102 626.5h2M112 626.5h3M120 626.5h2M132 626.5h2M145 626.5h1M111 627.5h1M117 627.5h2M125 627.5h1M127 627.5h1M139 627.5h1M104 628.5h1M110 628.5h2M119 628.5h1M121 628.5h1M123 628.5h1M101 629.5h1M109 629.5h1M112 629.5h1M118 629.5h2M122 629.5h3M126 629.5h1M133 629.5h2M138 629.5h1M102 630.5h1M107 630.5h1M110 630.5h2M113 630.5h1M116 630.5h1M118 630.5h3M126 630.5h1M128 630.5h1M100 631.5h1M109 631.5h1M115 631.5h1M133 631.5h1M142 631.5h1M103 632.5h1M125 632.5h1M127 632.5h1M129 632.5h1M132 632.5h1M138 632.5h1M100 633.5h1M112 633.5h1M114 633.5h1M116 633.5h2M125 633.5h2M136 633.5h1M138 633.5h1M82 634.5h1M106 634.5h1M115 634.5h1M119 634.5h2M124 634.5h1M126 634.5h3M108 635.5h1M114 635.5h1M120 635.5h1M122 635.5h1M126 635.5h1M128 635.5h4M136 635.5h1M105 636.5h2M108 636.5h1M121 636.5h2M124 636.5h3M133 636.5h1M105 637.5h1M115 637.5h1M117 637.5h2M122 637.5h1M126 637.5h1M129 637.5h1M99 638.5h1M105 638.5h1M110 638.5h2M114 638.5h3M118 638.5h1M120 638.5h2M123 638.5h1M126 638.5h1M129 638.5h1M131 638.5h1M134 638.5h1M86 639.5h1M94 639.5h1M99 639.5h1M108 639.5h1M110 639.5h1M112 639.5h2M120 639.5h1M123 639.5h1M125 639.5h1M127 639.5h1M129 639.5h1M132 639.5h1M135 639.5h1M141 639.5h1M100 640.5h1M103 640.5h1M107 640.5h2M110 640.5h4M115 640.5h2M119 640.5h1M128 640.5h1M132 640.5h1M95 641.5h1M102 641.5h2M105 641.5h2M108 641.5h2M114 641.5h1M118 641.5h4M123 641.5h2M126 641.5h2M142 641.5h1M80 642.5h1M84 642.5h1M95 642.5h1M97 642.5h1M100 642.5h2M103 642.5h1M105 642.5h2M109 642.5h1M111 642.5h1M113 642.5h1M115 642.5h1M119 642.5h2M122 642.5h5M128 642.5h3M132 642.5h1M135 642.5h1M137 642.5h1M143 642.5h1M149 642.5h1M88 643.5h1M94 643.5h3M100 643.5h1M104 643.5h1M106 643.5h2M109 643.5h3M113 643.5h2M117 643.5h3M123 643.5h1M125 643.5h2M129 643.5h3M136 643.5h1M143 643.5h1M146 643.5h1M92 644.5h1M94 644.5h1M96 644.5h2M99 644.5h2M102 644.5h2M105 644.5h1M108 644.5h6M116 644.5h1M118 644.5h10M133 644.5h1M135 644.5h1M145 644.5h1M88 645.5h1M95 645.5h19M115 645.5h8M124 645.5h2M127 645.5h1M129 645.5h2M133 645.5h2M136 645.5h1M138 645.5h1M140 645.5h1M87 646.5h1M91 646.5h3M95 646.5h4M100 646.5h11M112 646.5h2M115 646.5h3M119 646.5h1M122 646.5h2M126 646.5h2M129 646.5h2M132 646.5h1M134 646.5h1M138 646.5h1M142 646.5h1M167 646.5h1M77 647.5h1M85 647.5h1M89 647.5h2M92 647.5h1M94 647.5h12M107 647.5h4M112 647.5h7M120 647.5h9M130 647.5h1M132 647.5h3M137 647.5h3M141 647.5h1M149 647.5h1M83 648.5h1M87 648.5h1M90 648.5h3M94 648.5h9M104 648.5h2M107 648.5h13M121 648.5h2M124 648.5h5M130 648.5h5M136 648.5h1M138 648.5h2M144 648.5h1M146 648.5h1M85 649.5h1M89 649.5h3M93 649.5h2M96 649.5h34M131 649.5h1M134 649.5h2M139 649.5h1M79 650.5h1M85 650.5h1M88 650.5h1M90 650.5h6M97 650.5h27M125 650.5h8M138 650.5h1M85 651.5h1M87 651.5h1M89 651.5h36M126 651.5h2M129 651.5h3M136 651.5h1M148 651.5h1M80 652.5h1M82 652.5h1M85 652.5h2M88 652.5h4M93 652.5h28M122 652.5h6M129 652.5h3M134 652.5h1M136 652.5h2M140 652.5h1M79 653.5h3M85 653.5h1M87 653.5h32M120 653.5h4M125 653.5h7M133 653.5h1M135 653.5h3M145 653.5h1M82 654.5h1M87 654.5h33M121 654.5h3M125 654.5h3M129 654.5h1M131 654.5h4M136 654.5h1M139 654.5h1M143 654.5h1M81 655.5h1M83 655.5h34M118 655.5h2M121 655.5h3M125 655.5h1M127 655.5h1M130 655.5h1M132 655.5h2M81 656.5h1M84 656.5h1M87 656.5h31M120 656.5h3M125 656.5h3M129 656.5h1M132 656.5h1M134 656.5h3M139 656.5h1M79 657.5h1M81 657.5h2M85 657.5h2M88 657.5h7M96 657.5h22M119 657.5h7M128 657.5h1M133 657.5h1M138 657.5h1M77 658.5h2M82 658.5h3M87 658.5h36M124 658.5h1M126 658.5h1M130 658.5h1M132 658.5h1M137 658.5h1M139 658.5h1M145 658.5h1M78 659.5h1M81 659.5h19M101 659.5h13M115 659.5h5M121 659.5h3M125 659.5h2M129 659.5h4M140 659.5h1M82 660.5h1M85 660.5h31M117 660.5h1M119 660.5h2M122 660.5h3M126 660.5h2M130 660.5h1M134 660.5h1M145 660.5h1M156 660.5h1M79 661.5h3M83 661.5h1M85 661.5h2M88 661.5h17M106 661.5h10M117 661.5h8M130 661.5h1M139 661.5h1M157 661.5h1M81 662.5h7M89 662.5h8M98 662.5h18M117 662.5h2M120 662.5h1M125 662.5h1M130 662.5h2M133 662.5h1M138 662.5h1M81 663.5h4M86 663.5h21M108 663.5h2M111 663.5h5M117 663.5h2M123 663.5h3M131 663.5h1M77 664.5h1M81 664.5h1M83 664.5h1M86 664.5h2M89 664.5h17M109 664.5h1M111 664.5h3M115 664.5h2M118 664.5h2M121 664.5h1M127 664.5h1M130 664.5h1M133 664.5h1M136 664.5h1M139 664.5h1M77 665.5h1M82 665.5h1M88 665.5h20M111 665.5h2M114 665.5h2M117 665.5h3M123 665.5h1M127 665.5h1M129 665.5h2M135 665.5h1M84 666.5h1M86 666.5h4M91 666.5h1M93 666.5h3M97 666.5h1M100 666.5h1M102 666.5h5M109 666.5h6M116 666.5h1M121 666.5h1M124 666.5h1M129 666.5h1M78 667.5h1M82 667.5h1M84 667.5h1M86 667.5h3M90 667.5h5M97 667.5h3M101 667.5h2M104 667.5h1M106 667.5h1M108 667.5h4M117 667.5h2M120 667.5h1M123 667.5h1M125 667.5h1M132 667.5h1M134 667.5h1M84 668.5h1M87 668.5h1M91 668.5h3M96 668.5h1M98 668.5h3M102 668.5h1M104 668.5h2M109 668.5h2M112 668.5h2M115 668.5h1M134 668.5h1M138 668.5h1M79 669.5h1M81 669.5h1M83 669.5h1M88 669.5h1M92 669.5h2M97 669.5h4M102 669.5h1M106 669.5h1M109 669.5h1M126 669.5h2M136 669.5h1M81 670.5h2M86 670.5h1M88 670.5h2M91 670.5h2M94 670.5h4M101 670.5h3M107 670.5h2M113 670.5h1M115 670.5h1M135 670.5h1M81 671.5h1M84 671.5h1M88 671.5h1M90 671.5h3M96 671.5h1M102 671.5h3M106 671.5h1M110 671.5h1M117 671.5h1M120 671.5h1M130 671.5h1M98 672.5h1M105 672.5h1M113 672.5h1M121 672.5h2M132 672.5h1M88 673.5h1M92 673.5h1M99 673.5h2M103 673.5h1M108 673.5h1M126 673.5h1M80 674.5h1M98 674.5h2M106 674.5h1M114 674.5h1M106 675.5h1M134 675.5h1M92 676.5h1M97 676.5h1M82 677.5h1M108 677.5h2M118 677.5h1M99 678.5h1M101 678.5h1M106 678.5h1M142 678.5h1M89 679.5h1M99 679.5h1M102 679.5h1M124 680.5h1M139 681.5h1M100 682.5h1" stroke="#000" stroke-width="1" fill="none" shape-rendering="crispEdges"/>
<rect x="75.6" y="590" width="110.7" height="94.1" stroke="#222" stroke-width="1.1" fill="none"/>
<path d="M119.1,590V684.1M75.6,636.3H186.3" stroke="#222" stroke-width="1.3" fill="none"/>
<path d="M75.6,684.1h-3.2M75.6,677.02h-2M75.6,672.88h-2M75.6,669.94h-2M75.6,667.66h-2M75.6,665.79h-2M75.6,664.22h-2M75.6,662.85h-2M75.6,661.65h-2M75.6,660.58h-3.2M75.6,653.49h-2M75.6,649.35h-2M75.6,646.41h-2M75.6,644.13h-2M75.6,642.27h-2M75.6,640.69h-2M75.6,639.33h-2M75.6,638.13h-2M75.6,637.05h-3.2M75.6,629.97h-2M75.6,625.83h-2M75.6,622.89h-2M75.6,620.61h-2M75.6,618.74h-2M75.6,617.17h-2M75.6,615.8h-2M75.6,614.6h-2M75.6,613.52h-3.2M75.6,606.44h-2M75.6,602.3h-2M75.6,599.36h-2M75.6,597.08h-2M75.6,595.22h-2M75.6,593.64h-2M75.6,592.28h-2M75.6,591.08h-2M75.6,590h-3.2" stroke="#000" stroke-width="0.9" fill="none"/>
<path d="M75.6,684.1H186.3" stroke="#111" stroke-width="1.5" fill="none"/>
<path d="M75.6,684.1v3M83.93,684.1v2M88.8,684.1v2M92.26,684.1v2M94.94,684.1v2M97.14,684.1v2M98.99,684.1v2M100.59,684.1v2M102.01,684.1v2M103.28,684.1v3M111.61,684.1v2M116.48,684.1v2M119.94,684.1v2M122.62,684.1v2M124.81,684.1v2M126.66,684.1v2M128.27,684.1v2M129.68,684.1v2M130.95,684.1v3M139.28,684.1v2M144.15,684.1v2M147.61,684.1v2M150.29,684.1v2M152.49,684.1v2M154.34,684.1v2M155.94,684.1v2M157.36,684.1v2M158.62,684.1v3M166.96,684.1v2M171.83,684.1v2M175.29,684.1v2M177.97,684.1v2M180.16,684.1v2M182.01,684.1v2M183.62,684.1v2M185.03,684.1v2M186.3,684.1v3" stroke="#000" stroke-width="1.1" fill="none"/>
<text x="70.74" y="694.1" font-size="6.4" fill="#333">10</text>
<text x="78.36" y="691.1" font-size="5" fill="#333">0</text>
<text x="98.42" y="694.1" font-size="6.4" fill="#333">10</text>
<text x="106.03" y="691.1" font-size="5" fill="#333">1</text>
<text x="126.09" y="694.1" font-size="6.4" fill="#333">10</text>
<text x="133.71" y="691.1" font-size="5" fill="#333">2</text>
<text x="153.77" y="694.1" font-size="6.4" fill="#333">10</text>
<text x="161.38" y="691.1" font-size="5" fill="#333">3</text>
<text x="180.74" y="694.1" font-size="6.4" fill="#333">10</text>
<text x="188.36" y="691.1" font-size="5" fill="#333">4</text>
<path d="M265 593.5h1M240 596.5h1M252 596.5h1M255 597.5h1M238 599.5h1M252 599.5h1M244 600.5h1M235 601.5h1M241 601.5h1M249 601.5h1M272 601.5h1M248 602.5h1M250 602.5h1M253 602.5h1M257 602.5h1M242 604.5h1M248 604.5h1M250 604.5h2M256 604.5h1M246 605.5h2M251 605.5h1M238 606.5h1M245 606.5h1M247 606.5h1M251 606.5h3M233 607.5h1M241 607.5h1M246 607.5h1M249 607.5h2M252 607.5h3M258 607.5h1M227 608.5h1M235 608.5h1M239 608.5h1M243 608.5h4M250 608.5h2M255 608.5h1M258 608.5h1M235 609.5h1M238 609.5h1M241 609.5h1M243 609.5h1M246 609.5h1M249 609.5h1M251 609.5h2M257 609.5h1M259 609.5h1M263 609.5h1M266 609.5h1M234 610.5h1M241 610.5h1M245 610.5h1M248 610.5h2M251 610.5h3M256 610.5h3M270 610.5h1M233 611.5h1M242 611.5h2M245 611.5h2M248 611.5h4M253 611.5h2M256 611.5h1M258 611.5h1M221 612.5h1M229 612.5h1M239 612.5h1M241 612.5h1M243 612.5h2M246 612.5h6M253 612.5h1M255 612.5h3M238 613.5h1M242 613.5h2M245 613.5h2M248 613.5h2M252 613.5h1M255 613.5h1M260 613.5h2M264 613.5h1M267 613.5h1M233 614.5h1M242 614.5h1M244 614.5h1M247 614.5h2M250 614.5h1M252 614.5h4M257 614.5h1M259 614.5h1M265 614.5h1M234 615.5h2M238 615.5h1M242 615.5h1M244 615.5h4M249 615.5h11M261 615.5h1M241 616.5h3M245 616.5h1M247 616.5h2M250 616.5h6M257 616.5h3M231 617.5h1M236 617.5h4M241 617.5h9M251 617.5h6M260 617.5h1M266 617.5h2M234 618.5h1M236 618.5h5M242 618.5h1M244 618.5h11M256 618.5h2M260 618.5h1M262 618.5h1M264 618.5h1M237 619.5h9M247 619.5h11M261 619.5h2M264 619.5h1M236 620.5h1M240 620.5h11M252 620.5h2M255 620.5h4M260 620.5h1M262 620.5h1M266 620.5h2M271 620.5h1M233 621.5h1M235 621.5h1M237 621.5h6M244 621.5h15M260 621.5h1M266 621.5h1M225 622.5h1M235 622.5h3M239 622.5h2M242 622.5h2M246 622.5h13M262 622.5h1M238 623.5h20M259 623.5h2M263 623.5h1M236 624.5h2M239 624.5h1M241 624.5h20M263 624.5h1M268 624.5h1M234 625.5h2M237 625.5h17M256 625.5h8M236 626.5h2M240 626.5h21M262 626.5h1M275 626.5h1M221 627.5h1M236 627.5h22M260 627.5h3M265 627.5h1M225 628.5h1M231 628.5h1M234 628.5h1M237 628.5h1M239 628.5h1M241 628.5h21M265 628.5h1M233 629.5h2M236 629.5h2M240 629.5h1M242 629.5h1M244 629.5h9M254 629.5h6M261 629.5h4M238 630.5h2M241 630.5h14M256 630.5h2M259 630.5h2M232 631.5h1M236 631.5h4M241 631.5h13M255 631.5h3M259 631.5h3M263 631.5h2M229 632.5h1M232 632.5h1M234 632.5h1M238 632.5h5M244 632.5h2M247 632.5h13M263 632.5h2M211 633.5h1M231 633.5h1M236 633.5h1M238 633.5h1M241 633.5h21M272 633.5h1M237 634.5h1M240 634.5h22M234 635.5h1M237 635.5h7M245 635.5h15M261 635.5h1M221 636.5h1M232 636.5h1M234 636.5h1M237 636.5h21M259 636.5h3M274 636.5h1M233 637.5h2M237 637.5h24M233 638.5h3M237 638.5h18M256 638.5h3M260 638.5h2M275 638.5h1M214 639.5h1M224 639.5h1M234 639.5h2M237 639.5h3M241 639.5h18M260 639.5h3M225 640.5h1M229 640.5h1M233 640.5h3M237 640.5h2M240 640.5h2M244 640.5h18M265 640.5h1M222 641.5h1M231 641.5h1M233 641.5h1M237 641.5h2M240 641.5h1M242 641.5h20M263 641.5h1M265 641.5h1M268 641.5h1M220 642.5h1M223 642.5h2M236 642.5h3M240 642.5h22M263 642.5h2M223 643.5h1M227 643.5h1M232 643.5h1M234 643.5h2M237 643.5h5M243 643.5h16M261 643.5h1M265 643.5h1M217 644.5h1M225 644.5h2M229 644.5h1M232 644.5h1M234 644.5h1M236 644.5h26M263 644.5h1M215 645.5h1M217 645.5h1M219 645.5h1M221 645.5h2M224 645.5h1M229 645.5h1M231 645.5h3M235 645.5h1M238 645.5h20M259 645.5h1M262 645.5h4M220 646.5h1M222 646.5h1M224 646.5h1M227 646.5h2M234 646.5h5M240 646.5h16M257 646.5h7M267 646.5h1M214 647.5h1M218 647.5h1M222 647.5h4M227 647.5h1M229 647.5h4M236 647.5h2M239 647.5h10M250 647.5h10M261 647.5h1M270 647.5h1M208 648.5h1M211 648.5h1M217 648.5h2M220 648.5h3M226 648.5h2M229 648.5h1M232 648.5h2M235 648.5h2M238 648.5h7M246 648.5h10M257 648.5h3M261 648.5h1M264 648.5h1M270 648.5h1M208 649.5h2M211 649.5h1M217 649.5h1M219 649.5h1M223 649.5h3M227 649.5h1M233 649.5h1M239 649.5h3M243 649.5h3M247 649.5h8M256 649.5h8M278 649.5h1M201 650.5h1M207 650.5h2M212 650.5h1M214 650.5h1M217 650.5h1M219 650.5h2M222 650.5h3M227 650.5h2M233 650.5h1M235 650.5h1M238 650.5h1M240 650.5h1M242 650.5h20M274 650.5h1M212 651.5h6M220 651.5h1M223 651.5h1M225 651.5h1M228 651.5h1M231 651.5h1M236 651.5h1M238 651.5h19M258 651.5h2M262 651.5h1M199 652.5h1M201 652.5h1M204 652.5h1M207 652.5h2M210 652.5h4M215 652.5h3M219 652.5h1M221 652.5h2M224 652.5h1M226 652.5h3M235 652.5h1M237 652.5h10M249 652.5h1M251 652.5h6M258 652.5h3M262 652.5h1M264 652.5h1M202 653.5h1M204 653.5h1M209 653.5h1M215 653.5h3M219 653.5h3M223 653.5h1M229 653.5h1M236 653.5h24M262 653.5h1M201 654.5h2M209 654.5h3M215 654.5h1M218 654.5h1M222 654.5h4M232 654.5h1M234 654.5h1M237 654.5h1M241 654.5h1M243 654.5h19M268 654.5h1M198 655.5h1M204 655.5h1M206 655.5h1M208 655.5h2M216 655.5h3M222 655.5h1M238 655.5h4M243 655.5h17M199 656.5h1M201 656.5h2M204 656.5h1M206 656.5h2M209 656.5h1M211 656.5h3M215 656.5h1M218 656.5h3M222 656.5h1M224 656.5h4M229 656.5h1M233 656.5h1M239 656.5h1M241 656.5h1M243 656.5h1M245 656.5h16M263 656.5h1M265 656.5h1M268 656.5h1M196 657.5h1M200 657.5h1M203 657.5h1M208 657.5h3M215 657.5h4M221 657.5h2M224 657.5h1M229 657.5h4M236 657.5h1M239 657.5h1M241 657.5h2M245 657.5h17M276 657.5h1M197 658.5h1M200 658.5h1M202 658.5h1M206 658.5h1M209 658.5h1M212 658.5h1M215 658.5h1M217 658.5h1M219 658.5h1M221 658.5h1M223 658.5h1M233 658.5h1M239 658.5h22M263 658.5h2M268 658.5h1M197 659.5h1M200 659.5h1M202 659.5h1M204 659.5h3M208 659.5h6M215 659.5h1M217 659.5h2M221 659.5h1M230 659.5h1M238 659.5h1M243 659.5h3M247 659.5h13M263 659.5h1M197 660.5h1M199 660.5h2M202 660.5h2M205 660.5h2M209 660.5h4M215 660.5h2M223 660.5h1M226 660.5h1M234 660.5h1M240 660.5h17M259 660.5h2M262 660.5h1M200 661.5h1M203 661.5h3M207 661.5h1M209 661.5h6M219 661.5h1M226 661.5h1M236 661.5h1M238 661.5h1M242 661.5h2M245 661.5h18M264 661.5h1M199 662.5h1M201 662.5h4M206 662.5h4M211 662.5h2M214 662.5h1M228 662.5h1M235 662.5h1M240 662.5h6M247 662.5h12M260 662.5h3M284 662.5h1M196 663.5h3M203 663.5h1M205 663.5h2M209 663.5h3M216 663.5h1M239 663.5h3M243 663.5h1M245 663.5h2M250 663.5h6M258 663.5h1M261 663.5h1M214 664.5h1M224 664.5h2M229 664.5h1M232 664.5h1M235 664.5h1M239 664.5h1M243 664.5h14M258 664.5h2M273 664.5h1M200 665.5h1M202 665.5h1M212 665.5h1M217 665.5h1M233 665.5h1M238 665.5h1M241 665.5h1M244 665.5h14M259 665.5h2M206 666.5h4M238 666.5h1M240 666.5h2M243 666.5h7M251 666.5h5M257 666.5h4M263 666.5h2M197 667.5h1M201 667.5h1M205 667.5h1M209 667.5h1M212 667.5h2M237 667.5h1M239 667.5h1M243 667.5h2M246 667.5h12M259 667.5h1M262 667.5h1M264 667.5h1M200 668.5h1M233 668.5h2M237 668.5h2M240 668.5h1M245 668.5h2M248 668.5h12M262 668.5h1M264 668.5h1M196 669.5h1M225 669.5h1M240 669.5h1M242 669.5h2M246 669.5h4M251 669.5h4M198 670.5h1M225 670.5h1M235 670.5h1M241 670.5h3M250 670.5h2M253 670.5h2M256 670.5h1M261 670.5h1M210 671.5h1M238 671.5h1M245 671.5h3M249 671.5h1M251 671.5h1M253 671.5h3M232 672.5h1M241 672.5h3M245 672.5h2M248 672.5h1M250 672.5h1M254 672.5h1M256 672.5h1M260 672.5h1M212 673.5h1M231 673.5h1M241 673.5h1M243 673.5h10M254 673.5h3M258 673.5h1M232 674.5h1M242 674.5h1M245 674.5h3M250 674.5h4M257 674.5h1M261 674.5h1M264 674.5h1M218 675.5h1M246 675.5h1M248 675.5h2M251 675.5h1M254 675.5h1M256 675.5h3M241 676.5h1M246 676.5h2M250 676.5h2M254 676.5h2M259 676.5h1M245 677.5h2M249 677.5h1M251 677.5h1M254 677.5h1M272 677.5h1M247 678.5h1M251 678.5h2M254 678.5h2M267 678.5h1M246 679.5h1M249 679.5h2M253 679.5h1M247 680.5h1M251 680.5h1M254 680.5h1M264 680.5h1M247 681.5h1M251 681.5h2M259 681.5h1M247 682.5h1M253 683.5h1" stroke="#000" stroke-width="1" fill="none" shape-rendering="crispEdges"/>
<rect x="194.8" y="591" width="109.9" height="94" stroke="#222" stroke-width="1.1" fill="none"/>
<path d="M238,591V685M194.8,637.5H304.7" stroke="#222" stroke-width="1.3" fill="none"/>
<path d="M194.8,685h-3.2M194.8,677.93h-2M194.8,673.79h-2M194.8,670.85h-2M194.8,668.57h-2M194.8,666.71h-2M194.8,665.14h-2M194.8,663.78h-2M194.8,662.58h-2M194.8,661.5h-3.2M194.8,654.43h-2M194.8,650.29h-2M194.8,647.35h-2M194.8,645.07h-2M194.8,643.21h-2M194.8,641.64h-2M194.8,640.28h-2M194.8,639.08h-2M194.8,638h-3.2M194.8,630.93h-2M194.8,626.79h-2M194.8,623.85h-2M194.8,621.57h-2M194.8,619.71h-2M194.8,618.14h-2M194.8,616.78h-2M194.8,615.58h-2M194.8,614.5h-3.2M194.8,607.43h-2M194.8,603.29h-2M194.8,600.35h-2M194.8,598.07h-2M194.8,596.21h-2M194.8,594.64h-2M194.8,593.28h-2M194.8,592.08h-2M194.8,591h-3.2" stroke="#000" stroke-width="0.9" fill="none"/>
<path d="M194.8,685H304.7" stroke="#111" stroke-width="1.5" fill="none"/>
<path d="M194.8,685v3M203.07,685v2M207.91,685v2M211.34,685v2M214,685v2M216.18,685v2M218.02,685v2M219.61,685v2M221.02,685v2M222.28,685v3M230.55,685v2M235.38,685v2M238.82,685v2M241.48,685v2M243.65,685v2M245.49,685v2M247.09,685v2M248.49,685v2M249.75,685v3M258.02,685v2M262.86,685v2M266.29,685v2M268.95,685v2M271.13,685v2M272.97,685v2M274.56,685v2M275.97,685v2M277.23,685v3M285.5,685v2M290.33,685v2M293.77,685v2M296.43,685v2M298.6,685v2M300.44,685v2M302.04,685v2M303.44,685v2M304.7,685v3" stroke="#000" stroke-width="1.1" fill="none"/>
<text x="189.94" y="695" font-size="6.4" fill="#333">10</text>
<text x="197.56" y="692" font-size="5" fill="#333">0</text>
<text x="217.42" y="695" font-size="6.4" fill="#333">10</text>
<text x="225.03" y="692" font-size="5" fill="#333">1</text>
<text x="244.89" y="695" font-size="6.4" fill="#333">10</text>
<text x="252.51" y="692" font-size="5" fill="#333">2</text>
<text x="272.37" y="695" font-size="6.4" fill="#333">10</text>
<text x="279.98" y="692" font-size="5" fill="#333">3</text>
<text x="299.14" y="695" font-size="6.4" fill="#333">10</text>
<text x="306.76" y="692" font-size="5" fill="#333">4</text>
</svg></body></html>
